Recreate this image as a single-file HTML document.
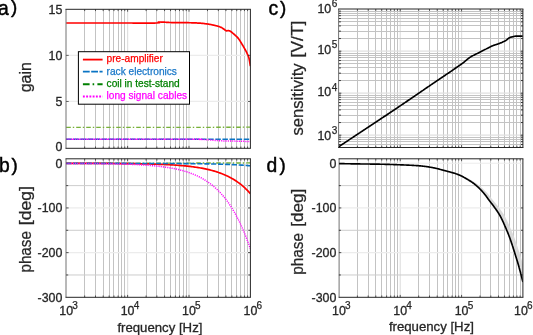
<!DOCTYPE html>
<html><head><meta charset="utf-8"><style>
html,body{margin:0;padding:0;background:#fff;width:533px;height:335px;overflow:hidden;}
svg{display:block;font-family:"Liberation Sans", sans-serif;will-change:transform;}
</style></head><body>
<svg width="533" height="335" viewBox="0 0 533 335" font-family='"Liberation Sans", sans-serif'>
<rect width="533" height="335" fill="#fff"/>
<line x1="84.50" y1="9.30" x2="84.50" y2="148.30" stroke="#c3c3c3" stroke-width="1.0" />
<line x1="95.50" y1="9.30" x2="95.50" y2="148.30" stroke="#c3c3c3" stroke-width="1.0" />
<line x1="103.50" y1="9.30" x2="103.50" y2="148.30" stroke="#c3c3c3" stroke-width="1.0" />
<line x1="109.50" y1="9.30" x2="109.50" y2="148.30" stroke="#c3c3c3" stroke-width="1.0" />
<line x1="113.50" y1="9.30" x2="113.50" y2="148.30" stroke="#c3c3c3" stroke-width="1.0" />
<line x1="118.50" y1="9.30" x2="118.50" y2="148.30" stroke="#c3c3c3" stroke-width="1.0" />
<line x1="121.50" y1="9.30" x2="121.50" y2="148.30" stroke="#c3c3c3" stroke-width="1.0" />
<line x1="124.50" y1="9.30" x2="124.50" y2="148.30" stroke="#c3c3c3" stroke-width="1.0" />
<line x1="127.60" y1="9.30" x2="127.60" y2="148.30" stroke="#e0e0e0" stroke-width="1.2" />
<line x1="146.50" y1="9.30" x2="146.50" y2="148.30" stroke="#c3c3c3" stroke-width="1.0" />
<line x1="156.50" y1="9.30" x2="156.50" y2="148.30" stroke="#c3c3c3" stroke-width="1.0" />
<line x1="164.50" y1="9.30" x2="164.50" y2="148.30" stroke="#c3c3c3" stroke-width="1.0" />
<line x1="170.50" y1="9.30" x2="170.50" y2="148.30" stroke="#c3c3c3" stroke-width="1.0" />
<line x1="175.50" y1="9.30" x2="175.50" y2="148.30" stroke="#c3c3c3" stroke-width="1.0" />
<line x1="179.50" y1="9.30" x2="179.50" y2="148.30" stroke="#c3c3c3" stroke-width="1.0" />
<line x1="183.50" y1="9.30" x2="183.50" y2="148.30" stroke="#c3c3c3" stroke-width="1.0" />
<line x1="186.50" y1="9.30" x2="186.50" y2="148.30" stroke="#c3c3c3" stroke-width="1.0" />
<line x1="189.00" y1="9.30" x2="189.00" y2="148.30" stroke="#e0e0e0" stroke-width="1.2" />
<line x1="207.50" y1="9.30" x2="207.50" y2="148.30" stroke="#c3c3c3" stroke-width="1.0" />
<line x1="218.50" y1="9.30" x2="218.50" y2="148.30" stroke="#c3c3c3" stroke-width="1.0" />
<line x1="225.50" y1="9.30" x2="225.50" y2="148.30" stroke="#c3c3c3" stroke-width="1.0" />
<line x1="231.50" y1="9.30" x2="231.50" y2="148.30" stroke="#c3c3c3" stroke-width="1.0" />
<line x1="236.50" y1="9.30" x2="236.50" y2="148.30" stroke="#c3c3c3" stroke-width="1.0" />
<line x1="240.50" y1="9.30" x2="240.50" y2="148.30" stroke="#c3c3c3" stroke-width="1.0" />
<line x1="244.50" y1="9.30" x2="244.50" y2="148.30" stroke="#c3c3c3" stroke-width="1.0" />
<line x1="247.50" y1="9.30" x2="247.50" y2="148.30" stroke="#c3c3c3" stroke-width="1.0" />
<line x1="66.20" y1="101.47" x2="250.40" y2="101.47" stroke="#ececec" stroke-width="1.2" />
<line x1="66.20" y1="55.38" x2="250.40" y2="55.38" stroke="#ececec" stroke-width="1.2" />
<line x1="84.50" y1="158.80" x2="84.50" y2="297.30" stroke="#c3c3c3" stroke-width="1.0" />
<line x1="95.50" y1="158.80" x2="95.50" y2="297.30" stroke="#c3c3c3" stroke-width="1.0" />
<line x1="103.50" y1="158.80" x2="103.50" y2="297.30" stroke="#c3c3c3" stroke-width="1.0" />
<line x1="109.50" y1="158.80" x2="109.50" y2="297.30" stroke="#c3c3c3" stroke-width="1.0" />
<line x1="113.50" y1="158.80" x2="113.50" y2="297.30" stroke="#c3c3c3" stroke-width="1.0" />
<line x1="118.50" y1="158.80" x2="118.50" y2="297.30" stroke="#c3c3c3" stroke-width="1.0" />
<line x1="121.50" y1="158.80" x2="121.50" y2="297.30" stroke="#c3c3c3" stroke-width="1.0" />
<line x1="124.50" y1="158.80" x2="124.50" y2="297.30" stroke="#c3c3c3" stroke-width="1.0" />
<line x1="127.60" y1="158.80" x2="127.60" y2="297.30" stroke="#e0e0e0" stroke-width="1.2" />
<line x1="146.50" y1="158.80" x2="146.50" y2="297.30" stroke="#c3c3c3" stroke-width="1.0" />
<line x1="156.50" y1="158.80" x2="156.50" y2="297.30" stroke="#c3c3c3" stroke-width="1.0" />
<line x1="164.50" y1="158.80" x2="164.50" y2="297.30" stroke="#c3c3c3" stroke-width="1.0" />
<line x1="170.50" y1="158.80" x2="170.50" y2="297.30" stroke="#c3c3c3" stroke-width="1.0" />
<line x1="175.50" y1="158.80" x2="175.50" y2="297.30" stroke="#c3c3c3" stroke-width="1.0" />
<line x1="179.50" y1="158.80" x2="179.50" y2="297.30" stroke="#c3c3c3" stroke-width="1.0" />
<line x1="183.50" y1="158.80" x2="183.50" y2="297.30" stroke="#c3c3c3" stroke-width="1.0" />
<line x1="186.50" y1="158.80" x2="186.50" y2="297.30" stroke="#c3c3c3" stroke-width="1.0" />
<line x1="189.00" y1="158.80" x2="189.00" y2="297.30" stroke="#e0e0e0" stroke-width="1.2" />
<line x1="207.50" y1="158.80" x2="207.50" y2="297.30" stroke="#c3c3c3" stroke-width="1.0" />
<line x1="218.50" y1="158.80" x2="218.50" y2="297.30" stroke="#c3c3c3" stroke-width="1.0" />
<line x1="225.50" y1="158.80" x2="225.50" y2="297.30" stroke="#c3c3c3" stroke-width="1.0" />
<line x1="231.50" y1="158.80" x2="231.50" y2="297.30" stroke="#c3c3c3" stroke-width="1.0" />
<line x1="236.50" y1="158.80" x2="236.50" y2="297.30" stroke="#c3c3c3" stroke-width="1.0" />
<line x1="240.50" y1="158.80" x2="240.50" y2="297.30" stroke="#c3c3c3" stroke-width="1.0" />
<line x1="244.50" y1="158.80" x2="244.50" y2="297.30" stroke="#c3c3c3" stroke-width="1.0" />
<line x1="247.50" y1="158.80" x2="247.50" y2="297.30" stroke="#c3c3c3" stroke-width="1.0" />
<line x1="66.20" y1="163.27" x2="250.40" y2="163.27" stroke="#ececec" stroke-width="1.2" />
<line x1="66.20" y1="185.61" x2="250.40" y2="185.61" stroke="#cdcdcd" stroke-width="1.0" />
<line x1="66.20" y1="207.95" x2="250.40" y2="207.95" stroke="#ececec" stroke-width="1.2" />
<line x1="66.20" y1="230.29" x2="250.40" y2="230.29" stroke="#cdcdcd" stroke-width="1.0" />
<line x1="66.20" y1="252.63" x2="250.40" y2="252.63" stroke="#ececec" stroke-width="1.2" />
<line x1="66.20" y1="274.97" x2="250.40" y2="274.97" stroke="#cdcdcd" stroke-width="1.0" />
<line x1="357.50" y1="9.00" x2="357.50" y2="147.50" stroke="#c3c3c3" stroke-width="1.0" />
<line x1="368.50" y1="9.00" x2="368.50" y2="147.50" stroke="#c3c3c3" stroke-width="1.0" />
<line x1="375.50" y1="9.00" x2="375.50" y2="147.50" stroke="#c3c3c3" stroke-width="1.0" />
<line x1="381.50" y1="9.00" x2="381.50" y2="147.50" stroke="#c3c3c3" stroke-width="1.0" />
<line x1="386.50" y1="9.00" x2="386.50" y2="147.50" stroke="#c3c3c3" stroke-width="1.0" />
<line x1="390.50" y1="9.00" x2="390.50" y2="147.50" stroke="#c3c3c3" stroke-width="1.0" />
<line x1="394.50" y1="9.00" x2="394.50" y2="147.50" stroke="#c3c3c3" stroke-width="1.0" />
<line x1="397.50" y1="9.00" x2="397.50" y2="147.50" stroke="#c3c3c3" stroke-width="1.0" />
<line x1="400.23" y1="9.00" x2="400.23" y2="147.50" stroke="#e0e0e0" stroke-width="1.2" />
<line x1="418.50" y1="9.00" x2="418.50" y2="147.50" stroke="#c3c3c3" stroke-width="1.0" />
<line x1="429.50" y1="9.00" x2="429.50" y2="147.50" stroke="#c3c3c3" stroke-width="1.0" />
<line x1="437.50" y1="9.00" x2="437.50" y2="147.50" stroke="#c3c3c3" stroke-width="1.0" />
<line x1="443.50" y1="9.00" x2="443.50" y2="147.50" stroke="#c3c3c3" stroke-width="1.0" />
<line x1="447.50" y1="9.00" x2="447.50" y2="147.50" stroke="#c3c3c3" stroke-width="1.0" />
<line x1="452.50" y1="9.00" x2="452.50" y2="147.50" stroke="#c3c3c3" stroke-width="1.0" />
<line x1="455.50" y1="9.00" x2="455.50" y2="147.50" stroke="#c3c3c3" stroke-width="1.0" />
<line x1="458.50" y1="9.00" x2="458.50" y2="147.50" stroke="#c3c3c3" stroke-width="1.0" />
<line x1="461.57" y1="9.00" x2="461.57" y2="147.50" stroke="#e0e0e0" stroke-width="1.2" />
<line x1="480.50" y1="9.00" x2="480.50" y2="147.50" stroke="#c3c3c3" stroke-width="1.0" />
<line x1="490.50" y1="9.00" x2="490.50" y2="147.50" stroke="#c3c3c3" stroke-width="1.0" />
<line x1="498.50" y1="9.00" x2="498.50" y2="147.50" stroke="#c3c3c3" stroke-width="1.0" />
<line x1="504.50" y1="9.00" x2="504.50" y2="147.50" stroke="#c3c3c3" stroke-width="1.0" />
<line x1="509.50" y1="9.00" x2="509.50" y2="147.50" stroke="#c3c3c3" stroke-width="1.0" />
<line x1="513.50" y1="9.00" x2="513.50" y2="147.50" stroke="#c3c3c3" stroke-width="1.0" />
<line x1="516.50" y1="9.00" x2="516.50" y2="147.50" stroke="#c3c3c3" stroke-width="1.0" />
<line x1="520.50" y1="9.00" x2="520.50" y2="147.50" stroke="#c3c3c3" stroke-width="1.0" />
<line x1="338.90" y1="144.50" x2="522.90" y2="144.50" stroke="#c3c3c3" stroke-width="1.0" />
<line x1="338.90" y1="141.50" x2="522.90" y2="141.50" stroke="#c3c3c3" stroke-width="1.0" />
<line x1="338.90" y1="139.50" x2="522.90" y2="139.50" stroke="#c3c3c3" stroke-width="1.0" />
<line x1="338.90" y1="137.50" x2="522.90" y2="137.50" stroke="#c3c3c3" stroke-width="1.0" />
<line x1="338.90" y1="135.20" x2="522.90" y2="135.20" stroke="#e0e0e0" stroke-width="1.2" />
<line x1="338.90" y1="122.50" x2="522.90" y2="122.50" stroke="#c3c3c3" stroke-width="1.0" />
<line x1="338.90" y1="115.50" x2="522.90" y2="115.50" stroke="#c3c3c3" stroke-width="1.0" />
<line x1="338.90" y1="109.50" x2="522.90" y2="109.50" stroke="#c3c3c3" stroke-width="1.0" />
<line x1="338.90" y1="105.50" x2="522.90" y2="105.50" stroke="#c3c3c3" stroke-width="1.0" />
<line x1="338.90" y1="102.50" x2="522.90" y2="102.50" stroke="#c3c3c3" stroke-width="1.0" />
<line x1="338.90" y1="99.50" x2="522.90" y2="99.50" stroke="#c3c3c3" stroke-width="1.0" />
<line x1="338.90" y1="97.50" x2="522.90" y2="97.50" stroke="#c3c3c3" stroke-width="1.0" />
<line x1="338.90" y1="95.50" x2="522.90" y2="95.50" stroke="#c3c3c3" stroke-width="1.0" />
<line x1="338.90" y1="93.20" x2="522.90" y2="93.20" stroke="#e0e0e0" stroke-width="1.2" />
<line x1="338.90" y1="80.50" x2="522.90" y2="80.50" stroke="#c3c3c3" stroke-width="1.0" />
<line x1="338.90" y1="73.50" x2="522.90" y2="73.50" stroke="#c3c3c3" stroke-width="1.0" />
<line x1="338.90" y1="67.50" x2="522.90" y2="67.50" stroke="#c3c3c3" stroke-width="1.0" />
<line x1="338.90" y1="63.50" x2="522.90" y2="63.50" stroke="#c3c3c3" stroke-width="1.0" />
<line x1="338.90" y1="60.50" x2="522.90" y2="60.50" stroke="#c3c3c3" stroke-width="1.0" />
<line x1="338.90" y1="57.50" x2="522.90" y2="57.50" stroke="#c3c3c3" stroke-width="1.0" />
<line x1="338.90" y1="55.50" x2="522.90" y2="55.50" stroke="#c3c3c3" stroke-width="1.0" />
<line x1="338.90" y1="53.50" x2="522.90" y2="53.50" stroke="#c3c3c3" stroke-width="1.0" />
<line x1="338.90" y1="51.20" x2="522.90" y2="51.20" stroke="#e0e0e0" stroke-width="1.2" />
<line x1="338.90" y1="38.50" x2="522.90" y2="38.50" stroke="#c3c3c3" stroke-width="1.0" />
<line x1="338.90" y1="31.50" x2="522.90" y2="31.50" stroke="#c3c3c3" stroke-width="1.0" />
<line x1="338.90" y1="25.50" x2="522.90" y2="25.50" stroke="#c3c3c3" stroke-width="1.0" />
<line x1="338.90" y1="21.50" x2="522.90" y2="21.50" stroke="#c3c3c3" stroke-width="1.0" />
<line x1="338.90" y1="18.50" x2="522.90" y2="18.50" stroke="#c3c3c3" stroke-width="1.0" />
<line x1="338.90" y1="15.50" x2="522.90" y2="15.50" stroke="#c3c3c3" stroke-width="1.0" />
<line x1="338.90" y1="13.50" x2="522.90" y2="13.50" stroke="#c3c3c3" stroke-width="1.0" />
<line x1="338.90" y1="11.50" x2="522.90" y2="11.50" stroke="#c3c3c3" stroke-width="1.0" />
<line x1="357.50" y1="158.80" x2="357.50" y2="297.30" stroke="#c3c3c3" stroke-width="1.0" />
<line x1="368.50" y1="158.80" x2="368.50" y2="297.30" stroke="#c3c3c3" stroke-width="1.0" />
<line x1="375.50" y1="158.80" x2="375.50" y2="297.30" stroke="#c3c3c3" stroke-width="1.0" />
<line x1="381.50" y1="158.80" x2="381.50" y2="297.30" stroke="#c3c3c3" stroke-width="1.0" />
<line x1="386.50" y1="158.80" x2="386.50" y2="297.30" stroke="#c3c3c3" stroke-width="1.0" />
<line x1="390.50" y1="158.80" x2="390.50" y2="297.30" stroke="#c3c3c3" stroke-width="1.0" />
<line x1="394.50" y1="158.80" x2="394.50" y2="297.30" stroke="#c3c3c3" stroke-width="1.0" />
<line x1="397.50" y1="158.80" x2="397.50" y2="297.30" stroke="#c3c3c3" stroke-width="1.0" />
<line x1="400.23" y1="158.80" x2="400.23" y2="297.30" stroke="#e0e0e0" stroke-width="1.2" />
<line x1="418.50" y1="158.80" x2="418.50" y2="297.30" stroke="#c3c3c3" stroke-width="1.0" />
<line x1="429.50" y1="158.80" x2="429.50" y2="297.30" stroke="#c3c3c3" stroke-width="1.0" />
<line x1="437.50" y1="158.80" x2="437.50" y2="297.30" stroke="#c3c3c3" stroke-width="1.0" />
<line x1="443.50" y1="158.80" x2="443.50" y2="297.30" stroke="#c3c3c3" stroke-width="1.0" />
<line x1="447.50" y1="158.80" x2="447.50" y2="297.30" stroke="#c3c3c3" stroke-width="1.0" />
<line x1="452.50" y1="158.80" x2="452.50" y2="297.30" stroke="#c3c3c3" stroke-width="1.0" />
<line x1="455.50" y1="158.80" x2="455.50" y2="297.30" stroke="#c3c3c3" stroke-width="1.0" />
<line x1="458.50" y1="158.80" x2="458.50" y2="297.30" stroke="#c3c3c3" stroke-width="1.0" />
<line x1="461.57" y1="158.80" x2="461.57" y2="297.30" stroke="#e0e0e0" stroke-width="1.2" />
<line x1="480.50" y1="158.80" x2="480.50" y2="297.30" stroke="#c3c3c3" stroke-width="1.0" />
<line x1="490.50" y1="158.80" x2="490.50" y2="297.30" stroke="#c3c3c3" stroke-width="1.0" />
<line x1="498.50" y1="158.80" x2="498.50" y2="297.30" stroke="#c3c3c3" stroke-width="1.0" />
<line x1="504.50" y1="158.80" x2="504.50" y2="297.30" stroke="#c3c3c3" stroke-width="1.0" />
<line x1="509.50" y1="158.80" x2="509.50" y2="297.30" stroke="#c3c3c3" stroke-width="1.0" />
<line x1="513.50" y1="158.80" x2="513.50" y2="297.30" stroke="#c3c3c3" stroke-width="1.0" />
<line x1="516.50" y1="158.80" x2="516.50" y2="297.30" stroke="#c3c3c3" stroke-width="1.0" />
<line x1="520.50" y1="158.80" x2="520.50" y2="297.30" stroke="#c3c3c3" stroke-width="1.0" />
<line x1="338.90" y1="163.27" x2="522.90" y2="163.27" stroke="#ececec" stroke-width="1.2" />
<line x1="338.90" y1="185.61" x2="522.90" y2="185.61" stroke="#cdcdcd" stroke-width="1.0" />
<line x1="338.90" y1="207.95" x2="522.90" y2="207.95" stroke="#ececec" stroke-width="1.2" />
<line x1="338.90" y1="230.29" x2="522.90" y2="230.29" stroke="#cdcdcd" stroke-width="1.0" />
<line x1="338.90" y1="252.63" x2="522.90" y2="252.63" stroke="#ececec" stroke-width="1.2" />
<line x1="338.90" y1="274.97" x2="522.90" y2="274.97" stroke="#cdcdcd" stroke-width="1.0" />
<clipPath id="ca"><rect x="66.2" y="9.3" width="184.2" height="139.0"/></clipPath>
<g clip-path="url(#ca)">
<path d="M66.20,127.40 L67.36,127.40 L68.52,127.40 L69.68,127.40 L70.83,127.40 L71.99,127.40 L73.15,127.40 L74.31,127.40 L75.47,127.40 L76.63,127.40 L77.78,127.40 L78.94,127.40 L80.10,127.40 L81.26,127.40 L82.42,127.40 L83.58,127.40 L84.74,127.40 L85.89,127.40 L87.05,127.40 L88.21,127.40 L89.37,127.40 L90.53,127.40 L91.69,127.40 L92.85,127.40 L94.00,127.40 L95.16,127.40 L96.32,127.40 L97.48,127.40 L98.64,127.40 L99.80,127.40 L100.95,127.40 L102.11,127.40 L103.27,127.40 L104.43,127.40 L105.59,127.40 L106.75,127.40 L107.91,127.40 L109.06,127.40 L110.22,127.40 L111.38,127.40 L112.54,127.40 L113.70,127.40 L114.86,127.40 L116.02,127.40 L117.17,127.40 L118.33,127.40 L119.49,127.40 L120.65,127.40 L121.81,127.40 L122.97,127.40 L124.12,127.40 L125.28,127.40 L126.44,127.40 L127.60,127.40 L128.76,127.40 L129.92,127.40 L131.08,127.40 L132.23,127.40 L133.39,127.40 L134.55,127.40 L135.71,127.40 L136.87,127.40 L138.03,127.40 L139.18,127.40 L140.34,127.40 L141.50,127.39 L142.66,127.39 L143.82,127.39 L144.98,127.39 L146.14,127.39 L147.29,127.39 L148.45,127.39 L149.61,127.39 L150.77,127.39 L151.93,127.39 L153.09,127.39 L154.25,127.39 L155.40,127.39 L156.56,127.39 L157.72,127.39 L158.88,127.39 L160.04,127.39 L161.20,127.39 L162.35,127.39 L163.51,127.39 L164.67,127.39 L165.83,127.39 L166.99,127.39 L168.15,127.39 L169.31,127.39 L170.46,127.39 L171.62,127.38 L172.78,127.38 L173.94,127.38 L175.10,127.38 L176.26,127.38 L177.42,127.38 L178.57,127.38 L179.73,127.38 L180.89,127.38 L182.05,127.38 L183.21,127.38 L184.37,127.37 L185.52,127.37 L186.68,127.37 L187.84,127.37 L189.00,127.37 L190.16,127.37 L191.32,127.37 L192.48,127.37 L193.63,127.36 L194.79,127.36 L195.95,127.36 L197.11,127.36 L198.27,127.36 L199.43,127.36 L200.58,127.35 L201.74,127.35 L202.90,127.35 L204.06,127.35 L205.22,127.34 L206.38,127.34 L207.54,127.34 L208.69,127.34 L209.85,127.33 L211.01,127.33 L212.17,127.33 L213.33,127.33 L214.49,127.32 L215.65,127.32 L216.80,127.31 L217.96,127.31 L219.12,127.31 L220.28,127.30 L221.44,127.30 L222.60,127.29 L223.75,127.29 L224.91,127.28 L226.07,127.28 L227.23,127.27 L228.39,127.27 L229.55,127.26 L230.71,127.26 L231.86,127.25 L233.02,127.24 L234.18,127.24 L235.34,127.23 L236.50,127.22 L237.66,127.21 L238.82,127.21 L239.97,127.20 L241.13,127.19 L242.29,127.18 L243.45,127.17 L244.61,127.16 L245.77,127.15 L246.92,127.14 L248.08,127.12 L249.24,127.11 L250.40,127.10" fill="none" stroke="#78b13a" stroke-width="1.4" stroke-dasharray="4.6,2,1.4,2" stroke-linecap="butt" stroke-linejoin="round"/>
<path d="M66.20,23.00 L66.70,23.00 L67.21,23.00 L67.71,23.00 L68.22,23.00 L68.73,23.00 L69.24,23.00 L69.75,23.00 L70.27,23.00 L70.78,23.00 L71.30,23.00 L71.81,23.00 L72.33,23.00 L72.85,23.00 L73.37,23.00 L73.89,23.00 L74.41,23.00 L74.93,23.00 L75.45,23.00 L75.98,23.00 L76.50,23.00 L77.03,23.00 L77.55,23.00 L78.08,23.00 L78.60,23.00 L79.13,23.00 L79.66,23.00 L80.19,23.00 L80.71,23.00 L81.24,23.00 L81.77,23.00 L82.30,23.00 L82.83,23.00 L83.36,23.00 L83.89,23.00 L84.42,23.00 L84.95,23.00 L85.48,23.00 L86.01,23.00 L86.54,23.00 L87.06,23.00 L87.59,23.00 L88.12,23.00 L88.65,23.00 L89.18,23.00 L89.71,23.00 L90.24,23.00 L90.76,23.00 L91.29,23.00 L91.81,23.00 L92.34,23.00 L92.87,23.00 L93.39,23.00 L93.91,23.00 L94.44,23.00 L94.96,23.00 L95.48,23.00 L96.00,23.00 L96.52,23.00 L97.04,23.00 L97.56,23.00 L98.07,23.00 L98.59,23.00 L99.10,23.00 L99.62,23.00 L100.13,23.00 L100.64,23.00 L101.15,23.00 L101.66,23.00 L102.16,23.00 L102.67,23.00 L103.17,23.00 L103.68,23.00 L104.18,23.00 L104.68,23.00 L105.17,23.00 L105.67,23.00 L106.16,23.00 L106.66,23.00 L107.15,23.00 L107.64,23.00 L108.12,23.00 L108.61,23.00 L109.09,23.00 L109.57,23.00 L110.05,23.00 L110.53,23.00 L111.01,23.00 L111.48,23.00 L111.95,23.00 L112.42,23.00 L112.89,23.00 L113.35,23.00 L113.81,23.00 L114.27,23.00 L114.73,23.00 L115.18,23.00 L115.63,23.00 L116.08,23.00 L116.53,23.00 L116.97,23.00 L117.41,23.00 L117.85,23.00 L118.29,23.00 L118.72,23.00 L119.15,23.00 L119.58,23.00 L120.00,23.00 L120.62,23.00 L121.24,23.00 L121.86,23.00 L122.48,23.00 L123.09,23.00 L123.71,23.00 L124.33,23.00 L124.95,23.00 L125.56,23.01 L126.17,23.01 L126.79,23.01 L127.40,23.01 L128.01,23.01 L128.62,23.01 L129.22,23.02 L129.83,23.02 L130.43,23.02 L131.03,23.02 L131.63,23.02 L132.22,23.02 L132.82,23.03 L133.41,23.03 L133.99,23.03 L134.58,23.03 L135.16,23.03 L135.73,23.04 L136.31,23.04 L136.88,23.04 L137.45,23.04 L138.01,23.04 L138.57,23.05 L139.12,23.05 L139.67,23.05 L140.22,23.05 L140.76,23.05 L141.30,23.06 L141.83,23.06 L142.35,23.06 L142.88,23.06 L143.39,23.06 L143.90,23.06 L144.41,23.06 L144.91,23.06 L145.40,23.06 L145.89,23.07 L146.37,23.07 L146.85,23.07 L147.32,23.07 L147.78,23.07 L148.24,23.07 L148.69,23.07 L149.13,23.07 L149.57,23.06 L150.00,23.06 L150.42,23.06 L150.83,23.06 L151.24,23.06 L151.64,23.06 L152.03,23.06 L152.41,23.05 L152.79,23.05 L153.15,23.05 L153.51,23.05 L153.86,23.04 L154.20,23.04 L154.53,23.04 L154.86,23.03 L155.17,23.03 L155.48,23.02 L155.77,23.02 L156.06,23.01 L156.33,23.01 L156.60,23.00 L159.61,22.73 L158.73,22.37 L158.20,22.10 L158.58,22.06 L159.01,22.03 L159.48,22.02 L159.99,22.02 L160.54,22.02 L161.12,22.04 L161.72,22.06 L162.35,22.08 L163.00,22.10 L163.43,22.12 L163.86,22.14 L164.30,22.16 L164.75,22.19 L165.21,22.23 L165.69,22.26 L166.18,22.29 L166.67,22.33 L167.19,22.36 L167.72,22.40 L168.26,22.43 L168.82,22.46 L169.40,22.48 L170.00,22.50 L170.44,22.51 L170.89,22.52 L171.36,22.53 L171.85,22.54 L172.35,22.55 L172.86,22.55 L173.38,22.56 L173.90,22.56 L174.44,22.57 L174.97,22.57 L175.50,22.57 L176.04,22.57 L176.57,22.58 L177.09,22.58 L177.61,22.58 L178.11,22.58 L178.61,22.59 L179.09,22.59 L179.55,22.60 L180.00,22.60 L180.57,22.61 L181.13,22.61 L181.66,22.62 L182.18,22.62 L182.69,22.63 L183.18,22.64 L183.67,22.64 L184.15,22.65 L184.62,22.65 L185.09,22.66 L185.57,22.67 L186.04,22.67 L186.52,22.68 L187.01,22.69 L187.50,22.70 L188.00,22.71 L188.50,22.72 L189.00,22.73 L189.50,22.74 L190.00,22.75 L190.50,22.76 L190.99,22.77 L191.49,22.78 L191.99,22.79 L192.49,22.81 L192.99,22.82 L193.49,22.84 L193.99,22.86 L194.50,22.88 L195.00,22.90 L195.50,22.92 L196.01,22.95 L196.52,22.97 L197.02,23.00 L197.53,23.03 L198.04,23.05 L198.55,23.08 L199.06,23.12 L199.57,23.15 L200.08,23.19 L200.59,23.22 L201.09,23.26 L201.60,23.31 L202.10,23.35 L202.60,23.40 L203.14,23.46 L203.69,23.52 L204.24,23.58 L204.80,23.65 L205.36,23.72 L205.91,23.79 L206.46,23.86 L207.01,23.94 L207.54,24.01 L208.07,24.09 L208.58,24.17 L209.07,24.25 L209.55,24.32 L210.00,24.40 L210.61,24.51 L211.18,24.62 L211.73,24.73 L212.26,24.85 L212.76,24.96 L213.24,25.08 L213.71,25.19 L214.15,25.30 L214.58,25.40 L215.00,25.50 L215.64,25.64 L216.20,25.77 L216.71,25.89 L217.19,26.01 L217.68,26.14 L218.20,26.30 L218.67,26.46 L219.16,26.62 L219.64,26.80 L220.13,26.99 L220.61,27.18 L221.06,27.39 L221.50,27.60 L221.98,27.86 L222.43,28.14 L222.87,28.44 L223.29,28.73 L223.70,29.02 L224.10,29.30 L224.57,29.64 L225.01,30.00 L225.45,30.33 L225.87,30.61 L226.30,30.80 L226.83,30.85 L227.35,30.74 L227.87,30.62 L228.40,30.60 L228.93,30.70 L229.46,30.85 L230.01,31.08 L230.60,31.40 L231.02,31.68 L231.46,32.02 L231.92,32.40 L232.38,32.80 L232.84,33.21 L233.30,33.60 L233.69,33.93 L234.07,34.26 L234.46,34.59 L234.84,34.93 L235.23,35.27 L235.61,35.63 L236.00,36.00 L236.38,36.36 L236.75,36.71 L237.12,37.07 L237.49,37.44 L237.87,37.86 L238.27,38.34 L238.70,38.90 L238.95,39.25 L239.20,39.62 L239.47,40.03 L239.75,40.46 L240.03,40.91 L240.31,41.37 L240.60,41.83 L240.88,42.30 L241.16,42.77 L241.44,43.23 L241.70,43.67 L241.96,44.10 L242.20,44.50 L242.50,45.00 L242.78,45.47 L243.06,45.93 L243.32,46.38 L243.57,46.83 L243.82,47.26 L244.07,47.69 L244.31,48.12 L244.56,48.56 L244.80,49.00 L245.07,49.49 L245.34,49.98 L245.61,50.47 L245.87,50.96 L246.13,51.44 L246.38,51.93 L246.63,52.42 L246.87,52.91 L247.10,53.40 L247.32,53.88 L247.54,54.32 L247.75,54.76 L247.95,55.20 L248.15,55.65 L248.34,56.13 L248.53,56.66 L248.72,57.24 L248.90,57.90 L249.00,58.31 L249.10,58.74 L249.20,59.20 L249.30,59.67 L249.39,60.17 L249.48,60.67 L249.58,61.19 L249.67,61.73 L249.76,62.26 L249.85,62.80 L249.94,63.35 L250.03,63.89 L250.12,64.43 L250.21,64.96 L250.31,65.49 L250.40,66.00" fill="none" stroke="#ff0000" stroke-width="1.7" stroke-linecap="butt" stroke-linejoin="round"/>
<path d="M66.20,139.35 L190.00,139.35 L200.00,139.40" fill="none" stroke="#f040f0" stroke-width="1.3" stroke-linecap="butt" stroke-linejoin="round"/>
<path d="M66.20,139.35 L67.36,139.35 L68.52,139.35 L69.68,139.35 L70.83,139.35 L71.99,139.35 L73.15,139.35 L74.31,139.35 L75.47,139.35 L76.63,139.35 L77.78,139.35 L78.94,139.35 L80.10,139.35 L81.26,139.35 L82.42,139.35 L83.58,139.35 L84.74,139.35 L85.89,139.35 L87.05,139.35 L88.21,139.35 L89.37,139.35 L90.53,139.35 L91.69,139.35 L92.85,139.35 L94.00,139.35 L95.16,139.35 L96.32,139.35 L97.48,139.35 L98.64,139.35 L99.80,139.35 L100.95,139.35 L102.11,139.35 L103.27,139.35 L104.43,139.35 L105.59,139.35 L106.75,139.35 L107.91,139.35 L109.06,139.35 L110.22,139.35 L111.38,139.35 L112.54,139.35 L113.70,139.35 L114.86,139.35 L116.02,139.35 L117.17,139.35 L118.33,139.35 L119.49,139.35 L120.65,139.35 L121.81,139.35 L122.97,139.35 L124.12,139.35 L125.28,139.35 L126.44,139.35 L127.60,139.35 L128.76,139.35 L129.92,139.35 L131.08,139.35 L132.23,139.35 L133.39,139.35 L134.55,139.35 L135.71,139.35 L136.87,139.35 L138.03,139.35 L139.18,139.35 L140.34,139.35 L141.50,139.35 L142.66,139.35 L143.82,139.35 L144.98,139.35 L146.14,139.35 L147.29,139.35 L148.45,139.35 L149.61,139.35 L150.77,139.35 L151.93,139.35 L153.09,139.35 L154.25,139.35 L155.40,139.35 L156.56,139.35 L157.72,139.35 L158.88,139.35 L160.04,139.35 L161.20,139.35 L162.35,139.35 L163.51,139.35 L164.67,139.35 L165.83,139.35 L166.99,139.35 L168.15,139.35 L169.31,139.35 L170.46,139.35 L171.62,139.34 L172.78,139.34 L173.94,139.34 L175.10,139.34 L176.26,139.34 L177.42,139.34 L178.57,139.34 L179.73,139.34 L180.89,139.34 L182.05,139.34 L183.21,139.34 L184.37,139.34 L185.52,139.34 L186.68,139.34 L187.84,139.34 L189.00,139.34 L190.16,139.34 L191.32,139.34 L192.48,139.34 L193.63,139.34 L194.79,139.34 L195.95,139.34 L197.11,139.34 L198.27,139.34 L199.43,139.34 L200.58,139.33 L201.74,139.33 L202.90,139.33 L204.06,139.33 L205.22,139.33 L206.38,139.33 L207.54,139.33 L208.69,139.33 L209.85,139.33 L211.01,139.33 L212.17,139.33 L213.33,139.33 L214.49,139.32 L215.65,139.32 L216.80,139.32 L217.96,139.32 L219.12,139.32 L220.28,139.32 L221.44,139.32 L222.60,139.31 L223.75,139.31 L224.91,139.31 L226.07,139.31 L227.23,139.31 L228.39,139.31 L229.55,139.30 L230.71,139.30 L231.86,139.30 L233.02,139.30 L234.18,139.30 L235.34,139.29 L236.50,139.29 L237.66,139.29 L238.82,139.29 L239.97,139.28 L241.13,139.28 L242.29,139.28 L243.45,139.27 L244.61,139.27 L245.77,139.27 L246.92,139.26 L248.08,139.26 L249.24,139.25 L250.40,139.25" fill="none" stroke="#0a74c4" stroke-width="1.5" stroke-dasharray="5.5,1.6" stroke-linecap="butt" stroke-linejoin="round"/>
<path d="M66.20,139.35 L66.70,139.35 L67.21,139.35 L67.71,139.35 L68.22,139.35 L68.73,139.35 L69.24,139.35 L69.75,139.35 L70.27,139.35 L70.78,139.35 L71.30,139.35 L71.82,139.35 L72.34,139.35 L72.87,139.35 L73.39,139.35 L73.92,139.35 L74.44,139.35 L74.97,139.35 L75.50,139.35 L76.03,139.35 L76.57,139.35 L77.10,139.35 L77.64,139.35 L78.18,139.35 L78.71,139.35 L79.25,139.35 L79.80,139.35 L80.34,139.35 L80.88,139.35 L81.43,139.35 L81.97,139.35 L82.52,139.35 L83.07,139.35 L83.62,139.35 L84.17,139.35 L84.72,139.35 L85.28,139.35 L85.83,139.35 L86.39,139.35 L86.94,139.35 L87.50,139.35 L88.06,139.35 L88.62,139.35 L89.18,139.35 L89.74,139.35 L90.30,139.35 L90.86,139.35 L91.43,139.35 L91.99,139.35 L92.55,139.35 L93.12,139.35 L93.69,139.35 L94.25,139.35 L94.82,139.35 L95.39,139.35 L95.96,139.35 L96.53,139.35 L97.10,139.35 L97.67,139.35 L98.24,139.35 L98.81,139.35 L99.39,139.35 L99.96,139.35 L100.53,139.35 L101.11,139.35 L101.68,139.35 L102.26,139.35 L102.83,139.35 L103.41,139.35 L103.98,139.35 L104.56,139.35 L105.14,139.35 L105.71,139.35 L106.29,139.35 L106.87,139.35 L107.44,139.35 L108.02,139.35 L108.60,139.35 L109.18,139.35 L109.75,139.35 L110.33,139.35 L110.91,139.35 L111.49,139.35 L112.07,139.35 L112.64,139.35 L113.22,139.35 L113.80,139.35 L114.38,139.35 L114.96,139.35 L115.53,139.35 L116.11,139.35 L116.69,139.35 L117.27,139.35 L117.84,139.35 L118.42,139.35 L119.00,139.35 L119.57,139.35 L120.15,139.35 L120.72,139.35 L121.30,139.35 L121.87,139.35 L122.45,139.35 L123.02,139.35 L123.59,139.35 L124.17,139.35 L124.74,139.35 L125.31,139.35 L125.88,139.35 L126.45,139.35 L127.02,139.35 L127.59,139.35 L128.16,139.35 L128.73,139.35 L129.30,139.35 L129.86,139.35 L130.43,139.35 L131.00,139.35 L131.56,139.35 L132.13,139.35 L132.69,139.35 L133.25,139.35 L133.81,139.35 L134.37,139.35 L134.93,139.35 L135.49,139.35 L136.05,139.35 L136.61,139.35 L137.16,139.35 L137.72,139.35 L138.27,139.35 L138.82,139.35 L139.38,139.35 L139.93,139.35 L140.48,139.35 L141.02,139.35 L141.57,139.35 L142.12,139.35 L142.66,139.35 L143.21,139.35 L143.75,139.35 L144.29,139.35 L144.83,139.35 L145.37,139.35 L145.90,139.35 L146.44,139.35 L146.97,139.35 L147.51,139.35 L148.04,139.35 L148.57,139.35 L149.10,139.35 L149.62,139.35 L150.15,139.35 L150.67,139.35 L151.19,139.35 L151.72,139.35 L152.23,139.35 L152.75,139.35 L153.27,139.35 L153.78,139.35 L154.29,139.35 L154.80,139.35 L155.31,139.35 L155.82,139.35 L156.33,139.35 L156.83,139.35 L157.33,139.35 L157.83,139.35 L158.33,139.35 L158.82,139.35 L159.32,139.35 L159.81,139.35 L160.30,139.35 L160.79,139.35 L161.27,139.35 L161.76,139.35 L162.24,139.35 L162.72,139.35 L163.20,139.35 L163.67,139.35 L164.14,139.35 L164.62,139.35 L165.08,139.35 L165.55,139.35 L166.02,139.35 L166.48,139.35 L166.94,139.35 L167.39,139.35 L167.85,139.35 L168.30,139.35 L168.75,139.35 L169.20,139.35 L169.65,139.35 L170.09,139.35 L170.53,139.35 L170.97,139.35 L171.40,139.35 L171.84,139.35 L172.27,139.35 L172.69,139.35 L173.12,139.35 L173.54,139.35 L173.96,139.35 L174.38,139.35 L174.79,139.35 L175.20,139.35 L175.61,139.35 L176.02,139.35 L176.42,139.35 L176.82,139.35 L177.22,139.35 L177.62,139.35 L178.01,139.35 L178.40,139.35 L178.78,139.35 L179.17,139.35 L179.55,139.35 L179.92,139.35 L180.30,139.35 L180.67,139.35 L181.04,139.35 L181.40,139.35 L181.76,139.35 L182.12,139.35 L182.48,139.35 L182.83,139.35 L183.18,139.35 L183.52,139.35 L183.87,139.35 L184.21,139.35 L184.54,139.35 L184.88,139.35 L185.20,139.35 L185.53,139.35 L185.85,139.35 L186.17,139.35 L186.49,139.35 L186.80,139.35 L187.11,139.35 L187.41,139.35 L187.72,139.35 L188.01,139.35 L188.31,139.35 L188.60,139.35 L188.89,139.35 L189.17,139.35 L189.45,139.35 L189.73,139.35 L190.00,139.35 L193.07,139.35 L195.62,139.35 L197.70,139.35 L199.33,139.35 L200.57,139.35 L201.46,139.35 L202.03,139.35 L202.34,139.35 L202.41,139.36 L202.30,139.36 L202.04,139.36 L201.68,139.36 L201.25,139.36 L200.81,139.37 L200.38,139.37 L200.01,139.37 L199.75,139.38 L199.63,139.38 L199.70,139.39 L200.00,139.40 L200.59,139.41 L201.16,139.43 L201.70,139.44 L202.22,139.46 L202.72,139.48 L203.21,139.50 L203.69,139.52 L204.16,139.54 L204.62,139.56 L205.09,139.59 L205.55,139.61 L206.03,139.64 L206.51,139.67 L207.00,139.70 L207.50,139.73 L208.00,139.77 L208.51,139.81 L209.01,139.85 L209.52,139.90 L210.03,139.94 L210.53,139.99 L211.03,140.03 L211.54,140.08 L212.04,140.13 L212.53,140.17 L213.03,140.22 L213.52,140.26 L214.00,140.30 L214.52,140.34 L215.03,140.39 L215.53,140.43 L216.04,140.47 L216.54,140.51 L217.03,140.55 L217.53,140.60 L218.02,140.63 L218.52,140.67 L219.01,140.71 L219.51,140.74 L220.00,140.77 L220.50,140.80 L221.00,140.83 L221.49,140.85 L221.99,140.87 L222.48,140.89 L222.98,140.90 L223.47,140.92 L223.97,140.93 L224.46,140.94 L224.96,140.96 L225.47,140.97 L225.97,140.98 L226.48,140.99 L227.00,141.00 L227.46,141.01 L227.89,141.02 L228.30,141.02 L228.69,141.03 L229.08,141.03 L229.47,141.03 L229.88,141.04 L230.32,141.04 L230.79,141.05 L231.30,141.05 L231.87,141.06 L232.50,141.07 L233.21,141.08 L234.00,141.10 L234.37,141.11 L234.77,141.12 L235.18,141.13 L235.60,141.14 L236.04,141.15 L236.49,141.16 L236.96,141.17 L237.44,141.18 L237.93,141.19 L238.43,141.20 L238.94,141.22 L239.46,141.23 L239.99,141.24 L240.52,141.25 L241.07,141.27 L241.61,141.28 L242.16,141.29 L242.72,141.31 L243.28,141.32 L243.84,141.34 L244.40,141.35 L244.96,141.36 L245.52,141.38 L246.08,141.39 L246.64,141.41 L247.19,141.42 L247.74,141.43 L248.29,141.45 L248.83,141.46 L249.36,141.47 L249.88,141.49 L250.40,141.50" fill="none" stroke="#ff00ff" stroke-width="1.5" stroke-dasharray="1.1,1.1" stroke-linecap="butt" stroke-linejoin="round"/>
</g>
<clipPath id="cb"><rect x="66.2" y="158.8" width="184.2" height="138.5"/></clipPath>
<g clip-path="url(#cb)">
<path d="M66.20,163.10 L67.36,163.10 L68.52,163.10 L69.68,163.10 L70.83,163.10 L71.99,163.10 L73.15,163.10 L74.31,163.10 L75.47,163.10 L76.63,163.10 L77.78,163.10 L78.94,163.10 L80.10,163.10 L81.26,163.10 L82.42,163.10 L83.58,163.10 L84.74,163.10 L85.89,163.10 L87.05,163.10 L88.21,163.10 L89.37,163.10 L90.53,163.10 L91.69,163.10 L92.85,163.10 L94.00,163.10 L95.16,163.10 L96.32,163.10 L97.48,163.10 L98.64,163.10 L99.80,163.10 L100.95,163.10 L102.11,163.10 L103.27,163.10 L104.43,163.10 L105.59,163.10 L106.75,163.10 L107.91,163.10 L109.06,163.10 L110.22,163.10 L111.38,163.10 L112.54,163.10 L113.70,163.10 L114.86,163.10 L116.02,163.10 L117.17,163.10 L118.33,163.10 L119.49,163.10 L120.65,163.10 L121.81,163.10 L122.97,163.10 L124.12,163.10 L125.28,163.10 L126.44,163.10 L127.60,163.10 L128.76,163.10 L129.92,163.10 L131.08,163.10 L132.23,163.10 L133.39,163.10 L134.55,163.10 L135.71,163.10 L136.87,163.10 L138.03,163.10 L139.18,163.10 L140.34,163.10 L141.50,163.10 L142.66,163.10 L143.82,163.10 L144.98,163.10 L146.14,163.10 L147.29,163.10 L148.45,163.10 L149.61,163.10 L150.77,163.10 L151.93,163.10 L153.09,163.09 L154.25,163.09 L155.40,163.09 L156.56,163.09 L157.72,163.09 L158.88,163.09 L160.04,163.09 L161.20,163.09 L162.35,163.09 L163.51,163.09 L164.67,163.09 L165.83,163.09 L166.99,163.09 L168.15,163.09 L169.31,163.09 L170.46,163.09 L171.62,163.09 L172.78,163.09 L173.94,163.09 L175.10,163.09 L176.26,163.09 L177.42,163.09 L178.57,163.09 L179.73,163.09 L180.89,163.09 L182.05,163.08 L183.21,163.08 L184.37,163.08 L185.52,163.08 L186.68,163.08 L187.84,163.08 L189.00,163.08 L190.16,163.08 L191.32,163.08 L192.48,163.08 L193.63,163.08 L194.79,163.08 L195.95,163.07 L197.11,163.07 L198.27,163.07 L199.43,163.07 L200.58,163.07 L201.74,163.07 L202.90,163.07 L204.06,163.06 L205.22,163.06 L206.38,163.06 L207.54,163.06 L208.69,163.06 L209.85,163.06 L211.01,163.05 L212.17,163.05 L213.33,163.05 L214.49,163.05 L215.65,163.05 L216.80,163.04 L217.96,163.04 L219.12,163.04 L220.28,163.04 L221.44,163.03 L222.60,163.03 L223.75,163.03 L224.91,163.02 L226.07,163.02 L227.23,163.02 L228.39,163.01 L229.55,163.01 L230.71,163.00 L231.86,163.00 L233.02,163.00 L234.18,162.99 L235.34,162.99 L236.50,162.98 L237.66,162.98 L238.82,162.97 L239.97,162.96 L241.13,162.96 L242.29,162.95 L243.45,162.95 L244.61,162.94 L245.77,162.93 L246.92,162.92 L248.08,162.92 L249.24,162.91 L250.40,162.90" fill="none" stroke="#78b13a" stroke-width="1.4" stroke-dasharray="4.6,2,1.4,2" stroke-linecap="butt" stroke-linejoin="round"/>
<path d="M66.20,163.33 L67.36,163.33 L68.52,163.33 L69.68,163.33 L70.83,163.34 L71.99,163.34 L73.15,163.34 L74.31,163.34 L75.47,163.34 L76.63,163.34 L77.78,163.35 L78.94,163.35 L80.10,163.35 L81.26,163.35 L82.42,163.36 L83.58,163.36 L84.74,163.36 L85.89,163.36 L87.05,163.37 L88.21,163.37 L89.37,163.37 L90.53,163.38 L91.69,163.38 L92.85,163.38 L94.00,163.39 L95.16,163.39 L96.32,163.39 L97.48,163.40 L98.64,163.40 L99.80,163.41 L100.95,163.41 L102.11,163.42 L103.27,163.42 L104.43,163.43 L105.59,163.43 L106.75,163.44 L107.91,163.44 L109.06,163.45 L110.22,163.46 L111.38,163.46 L112.54,163.47 L113.70,163.48 L114.86,163.49 L116.02,163.50 L117.17,163.50 L118.33,163.51 L119.49,163.52 L120.65,163.53 L121.81,163.54 L122.97,163.55 L124.12,163.57 L125.28,163.58 L126.44,163.59 L127.60,163.60 L128.76,163.62 L129.92,163.63 L131.08,163.65 L132.23,163.66 L133.39,163.68 L134.55,163.69 L135.71,163.71 L136.87,163.73 L138.03,163.75 L139.18,163.77 L140.34,163.79 L141.50,163.81 L142.66,163.83 L143.82,163.86 L144.98,163.88 L146.14,163.91 L147.29,163.93 L148.45,163.96 L149.61,163.99 L150.77,164.02 L151.93,164.05 L153.09,164.09 L154.25,164.12 L155.40,164.16 L156.56,164.20 L157.72,164.24 L158.88,164.28 L160.04,164.32 L161.20,164.37 L162.35,164.42 L163.51,164.47 L164.67,164.52 L165.83,164.57 L166.99,164.63 L168.15,164.69 L169.31,164.75 L170.46,164.81 L171.62,164.88 L172.78,164.95 L173.94,165.02 L175.10,165.10 L176.26,165.18 L177.42,165.26 L178.57,165.35 L179.73,165.44 L180.89,165.54 L182.05,165.63 L183.21,165.74 L184.37,165.85 L185.52,165.96 L186.68,166.08 L187.84,166.20 L189.00,166.33 L190.16,166.46 L191.32,166.61 L192.48,166.75 L193.63,166.91 L194.79,167.07 L195.95,167.23 L197.11,167.41 L198.27,167.59 L199.43,167.78 L200.58,167.98 L201.74,168.19 L202.90,168.40 L204.06,168.63 L205.22,168.87 L206.38,169.11 L207.54,169.37 L208.69,169.64 L209.85,169.92 L211.01,170.22 L212.17,170.52 L213.33,170.85 L214.49,171.18 L215.65,171.53 L216.80,171.90 L217.96,172.28 L219.12,172.68 L220.28,173.09 L221.44,173.53 L222.60,173.98 L223.75,174.46 L224.91,174.95 L226.07,175.47 L227.23,176.01 L228.39,176.57 L229.55,177.16 L230.71,177.78 L231.86,178.42 L233.02,179.09 L234.18,179.79 L235.34,180.53 L236.50,181.29 L237.66,182.09 L238.82,182.92 L239.97,183.79 L241.13,184.70 L242.29,185.65 L243.45,186.65 L244.61,187.68 L245.77,188.77 L246.92,189.90 L248.08,191.08 L249.24,192.31 L250.40,193.60" fill="none" stroke="#ff0000" stroke-width="1.7" stroke-linecap="butt" stroke-linejoin="round"/>
<path d="M66.20,163.40 L67.36,163.40 L68.52,163.40 L69.68,163.40 L70.83,163.40 L71.99,163.40 L73.15,163.40 L74.31,163.40 L75.47,163.40 L76.63,163.40 L77.78,163.40 L78.94,163.40 L80.10,163.40 L81.26,163.40 L82.42,163.40 L83.58,163.40 L84.74,163.40 L85.89,163.41 L87.05,163.41 L88.21,163.41 L89.37,163.41 L90.53,163.41 L91.69,163.41 L92.85,163.41 L94.00,163.41 L95.16,163.41 L96.32,163.41 L97.48,163.41 L98.64,163.41 L99.80,163.41 L100.95,163.41 L102.11,163.41 L103.27,163.41 L104.43,163.41 L105.59,163.41 L106.75,163.41 L107.91,163.41 L109.06,163.41 L110.22,163.41 L111.38,163.41 L112.54,163.41 L113.70,163.41 L114.86,163.41 L116.02,163.42 L117.17,163.42 L118.33,163.42 L119.49,163.42 L120.65,163.42 L121.81,163.42 L122.97,163.42 L124.12,163.42 L125.28,163.42 L126.44,163.42 L127.60,163.42 L128.76,163.43 L129.92,163.43 L131.08,163.43 L132.23,163.43 L133.39,163.43 L134.55,163.43 L135.71,163.43 L136.87,163.43 L138.03,163.44 L139.18,163.44 L140.34,163.44 L141.50,163.44 L142.66,163.44 L143.82,163.44 L144.98,163.45 L146.14,163.45 L147.29,163.45 L148.45,163.45 L149.61,163.45 L150.77,163.46 L151.93,163.46 L153.09,163.46 L154.25,163.47 L155.40,163.47 L156.56,163.47 L157.72,163.47 L158.88,163.48 L160.04,163.48 L161.20,163.48 L162.35,163.49 L163.51,163.49 L164.67,163.50 L165.83,163.50 L166.99,163.51 L168.15,163.51 L169.31,163.51 L170.46,163.52 L171.62,163.53 L172.78,163.53 L173.94,163.54 L175.10,163.54 L176.26,163.55 L177.42,163.56 L178.57,163.56 L179.73,163.57 L180.89,163.58 L182.05,163.58 L183.21,163.59 L184.37,163.60 L185.52,163.61 L186.68,163.62 L187.84,163.63 L189.00,163.64 L190.16,163.65 L191.32,163.66 L192.48,163.67 L193.63,163.69 L194.79,163.70 L195.95,163.71 L197.11,163.73 L198.27,163.74 L199.43,163.75 L200.58,163.77 L201.74,163.79 L202.90,163.80 L204.06,163.82 L205.22,163.84 L206.38,163.86 L207.54,163.88 L208.69,163.90 L209.85,163.92 L211.01,163.95 L212.17,163.97 L213.33,164.00 L214.49,164.02 L215.65,164.05 L216.80,164.08 L217.96,164.11 L219.12,164.14 L220.28,164.18 L221.44,164.21 L222.60,164.25 L223.75,164.28 L224.91,164.32 L226.07,164.36 L227.23,164.41 L228.39,164.45 L229.55,164.50 L230.71,164.55 L231.86,164.60 L233.02,164.65 L234.18,164.71 L235.34,164.76 L236.50,164.82 L237.66,164.89 L238.82,164.95 L239.97,165.02 L241.13,165.10 L242.29,165.17 L243.45,165.25 L244.61,165.33 L245.77,165.42 L246.92,165.51 L248.08,165.60 L249.24,165.70 L250.40,165.80" fill="none" stroke="#0a74c4" stroke-width="1.6" stroke-dasharray="5.2,1.7" stroke-linecap="butt" stroke-linejoin="round"/>
<path d="M66.20,163.39 L67.36,163.40 L68.52,163.40 L69.68,163.41 L70.83,163.41 L71.99,163.42 L73.15,163.42 L74.31,163.43 L75.47,163.43 L76.63,163.44 L77.78,163.44 L78.94,163.45 L80.10,163.46 L81.26,163.46 L82.42,163.47 L83.58,163.48 L84.74,163.49 L85.89,163.50 L87.05,163.50 L88.21,163.51 L89.37,163.52 L90.53,163.53 L91.69,163.54 L92.85,163.55 L94.00,163.57 L95.16,163.58 L96.32,163.59 L97.48,163.60 L98.64,163.62 L99.80,163.63 L100.95,163.64 L102.11,163.66 L103.27,163.68 L104.43,163.69 L105.59,163.71 L106.75,163.73 L107.91,163.75 L109.06,163.77 L110.22,163.79 L111.38,163.81 L112.54,163.83 L113.70,163.86 L114.86,163.88 L116.02,163.91 L117.17,163.93 L118.33,163.96 L119.49,163.99 L120.65,164.02 L121.81,164.05 L122.97,164.09 L124.12,164.12 L125.28,164.16 L126.44,164.20 L127.60,164.24 L128.76,164.28 L129.92,164.32 L131.08,164.37 L132.23,164.41 L133.39,164.46 L134.55,164.51 L135.71,164.57 L136.87,164.62 L138.03,164.68 L139.18,164.74 L140.34,164.81 L141.50,164.88 L142.66,164.95 L143.82,165.02 L144.98,165.09 L146.14,165.17 L147.29,165.26 L148.45,165.34 L149.61,165.43 L150.77,165.53 L151.93,165.63 L153.09,165.73 L154.25,165.84 L155.40,165.95 L156.56,166.07 L157.72,166.19 L158.88,166.32 L160.04,166.45 L161.20,166.59 L162.35,166.74 L163.51,166.89 L164.67,167.05 L165.83,167.22 L166.99,167.39 L168.15,167.57 L169.31,167.76 L170.46,167.96 L171.62,168.16 L172.78,168.38 L173.94,168.60 L175.10,168.83 L176.26,169.08 L177.42,169.33 L178.57,169.60 L179.73,169.88 L180.89,170.17 L182.05,170.47 L183.21,170.79 L184.37,171.12 L185.52,171.46 L186.68,171.82 L187.84,172.20 L189.00,172.59 L190.16,173.00 L191.32,173.42 L192.48,173.87 L193.63,174.33 L194.79,174.82 L195.95,175.32 L197.11,175.85 L198.27,176.40 L199.43,176.97 L200.58,177.57 L201.74,178.20 L202.90,178.85 L204.06,179.53 L205.22,180.24 L206.38,180.98 L207.54,181.75 L208.69,182.55 L209.85,183.39 L211.01,184.26 L212.17,185.17 L213.33,186.12 L214.49,187.11 L215.65,188.15 L216.80,189.22 L217.96,190.34 L219.12,191.51 L220.28,192.72 L221.44,193.99 L222.60,195.31 L223.75,196.69 L224.91,198.12 L226.07,199.61 L227.23,201.16 L228.39,202.77 L229.55,204.45 L230.71,206.20 L231.86,208.02 L233.02,209.91 L234.18,211.87 L235.34,213.92 L236.50,216.04 L237.66,218.25 L238.82,220.54 L239.97,222.93 L241.13,225.40 L242.29,227.97 L243.45,230.63 L244.61,233.39 L245.77,236.26 L246.92,239.23 L248.08,242.31 L249.24,245.50 L250.40,248.80" fill="none" stroke="#ff00ff" stroke-width="1.5" stroke-dasharray="1.1,1.1" stroke-linecap="butt" stroke-linejoin="round"/>
</g>
<clipPath id="cc"><rect x="338.9" y="9.0" width="184.0" height="138.5"/></clipPath>
<g clip-path="url(#cc)">
<path d="M338.70,147.00 L339.01,146.77 L339.14,146.67 L339.14,146.64 L339.07,146.67 L338.98,146.71 L338.93,146.72 L338.97,146.67 L339.15,146.53 L339.54,146.25 L340.18,145.81 L341.13,145.16 L342.46,144.27 L344.20,143.10 L344.44,142.94 L344.69,142.77 L344.95,142.60 L345.21,142.42 L345.49,142.24 L345.77,142.05 L346.06,141.86 L346.36,141.66 L346.66,141.46 L346.98,141.25 L347.30,141.04 L347.62,140.82 L347.96,140.59 L348.30,140.37 L348.65,140.13 L349.01,139.90 L349.37,139.66 L349.74,139.41 L350.11,139.16 L350.49,138.91 L350.88,138.65 L351.27,138.39 L351.67,138.13 L352.07,137.86 L352.48,137.59 L352.90,137.32 L353.32,137.04 L353.74,136.76 L354.17,136.47 L354.60,136.18 L355.04,135.89 L355.48,135.60 L355.92,135.31 L356.37,135.01 L356.83,134.71 L357.28,134.41 L357.74,134.10 L358.21,133.79 L358.67,133.48 L359.14,133.17 L359.62,132.86 L360.09,132.54 L360.57,132.23 L361.05,131.91 L361.53,131.59 L362.02,131.27 L362.50,130.95 L362.99,130.62 L363.48,130.30 L363.97,129.97 L364.46,129.65 L364.96,129.32 L365.45,128.99 L365.95,128.66 L366.44,128.34 L366.94,128.01 L367.44,127.68 L367.93,127.35 L368.43,127.02 L368.93,126.69 L369.42,126.36 L369.92,126.03 L370.42,125.70 L370.91,125.37 L371.41,125.05 L371.90,124.72 L372.39,124.39 L372.88,124.07 L373.37,123.74 L373.86,123.42 L374.35,123.10 L374.83,122.78 L375.31,122.46 L375.79,122.14 L376.27,121.82 L376.74,121.51 L377.22,121.19 L377.69,120.88 L378.15,120.57 L378.62,120.27 L379.08,119.96 L379.53,119.66 L379.99,119.36 L380.44,119.06 L380.88,118.76 L381.32,118.47 L381.76,118.18 L382.19,117.89 L382.62,117.61 L383.04,117.33 L383.46,117.05 L383.88,116.77 L384.29,116.50 L384.69,116.24 L385.09,115.97 L385.48,115.71 L385.87,115.45 L386.25,115.20 L386.62,114.95 L386.99,114.71 L387.35,114.46 L387.71,114.23 L388.06,114.00 L388.40,113.77 L388.73,113.55 L389.06,113.33 L389.38,113.11 L389.69,112.90 L390.00,112.70 L390.67,112.25 L391.33,111.81 L391.96,111.39 L392.57,110.98 L393.16,110.59 L393.73,110.21 L394.29,109.83 L394.83,109.47 L395.35,109.13 L395.85,108.79 L396.34,108.46 L396.81,108.14 L397.27,107.83 L397.72,107.53 L398.16,107.24 L398.58,106.96 L398.99,106.68 L399.39,106.41 L399.78,106.14 L400.16,105.89 L400.54,105.63 L400.90,105.39 L401.26,105.14 L401.61,104.91 L401.96,104.67 L402.30,104.44 L402.64,104.21 L402.97,103.98 L403.30,103.76 L403.63,103.53 L403.96,103.31 L404.29,103.09 L404.62,102.87 L404.94,102.64 L405.27,102.42 L405.60,102.19 L405.94,101.97 L406.28,101.74 L406.62,101.50 L406.97,101.27 L407.32,101.03 L407.68,100.78 L408.04,100.53 L408.42,100.28 L408.80,100.02 L409.19,99.75 L409.59,99.48 L410.00,99.20 L410.42,98.92 L410.83,98.63 L411.25,98.35 L411.67,98.06 L412.08,97.78 L412.50,97.50 L412.92,97.21 L413.33,96.93 L413.75,96.64 L414.17,96.36 L414.58,96.07 L415.00,95.78 L415.42,95.50 L415.83,95.21 L416.25,94.93 L416.67,94.64 L417.08,94.35 L417.50,94.07 L417.92,93.78 L418.33,93.50 L418.75,93.21 L419.17,92.92 L419.58,92.64 L420.00,92.35 L420.42,92.06 L420.83,91.78 L421.25,91.49 L421.67,91.20 L422.08,90.92 L422.50,90.63 L422.92,90.35 L423.33,90.06 L423.75,89.77 L424.17,89.49 L424.58,89.20 L425.00,88.92 L425.42,88.63 L425.83,88.34 L426.25,88.06 L426.67,87.77 L427.08,87.49 L427.50,87.20 L427.92,86.92 L428.33,86.64 L428.75,86.35 L429.17,86.07 L429.58,85.78 L430.00,85.50 L430.42,85.21 L430.85,84.93 L431.28,84.63 L431.71,84.34 L432.16,84.04 L432.60,83.73 L433.05,83.43 L433.51,83.12 L433.96,82.81 L434.42,82.50 L434.89,82.19 L435.35,81.88 L435.82,81.56 L436.29,81.25 L436.75,80.93 L437.22,80.61 L437.69,80.30 L438.16,79.98 L438.63,79.67 L439.09,79.35 L439.56,79.04 L440.02,78.73 L440.48,78.42 L440.94,78.11 L441.39,77.81 L441.84,77.50 L442.29,77.20 L442.73,76.91 L443.17,76.61 L443.60,76.32 L444.02,76.03 L444.44,75.75 L444.86,75.47 L445.26,75.20 L445.66,74.93 L446.05,74.67 L446.44,74.41 L446.81,74.16 L447.18,73.91 L447.53,73.67 L447.88,73.43 L448.22,73.21 L448.54,72.99 L448.86,72.77 L449.16,72.57 L449.45,72.37 L449.73,72.18 L450.00,72.00 L450.93,71.36 L451.67,70.86 L452.25,70.46 L452.69,70.16 L453.02,69.92 L453.28,69.73 L453.50,69.57 L453.70,69.42 L453.93,69.26 L454.20,69.07 L454.54,68.82 L455.00,68.50 L455.35,68.25 L455.72,68.00 L456.11,67.74 L456.50,67.47 L456.91,67.20 L457.32,66.92 L457.74,66.63 L458.17,66.34 L458.60,66.05 L459.04,65.75 L459.48,65.45 L459.91,65.15 L460.35,64.84 L460.79,64.54 L461.23,64.23 L461.66,63.92 L462.08,63.61 L462.50,63.30 L462.91,62.99 L463.33,62.66 L463.74,62.34 L464.15,62.00 L464.56,61.66 L464.97,61.31 L465.38,60.97 L465.79,60.62 L466.20,60.27 L466.61,59.93 L467.02,59.59 L467.43,59.25 L467.84,58.92 L468.25,58.60 L468.66,58.28 L469.07,57.98 L469.49,57.68 L469.90,57.40 L470.34,57.11 L470.78,56.84 L471.22,56.58 L471.66,56.32 L472.10,56.08 L472.54,55.84 L472.98,55.61 L473.42,55.38 L473.86,55.16 L474.31,54.94 L474.75,54.72 L475.19,54.50 L475.63,54.29 L476.08,54.07 L476.52,53.85 L476.96,53.63 L477.40,53.40 L477.87,53.16 L478.34,52.91 L478.81,52.67 L479.28,52.43 L479.75,52.19 L480.22,51.96 L480.69,51.72 L481.16,51.48 L481.63,51.24 L482.09,51.01 L482.56,50.77 L483.03,50.54 L483.50,50.30 L483.97,50.07 L484.43,49.83 L484.90,49.60 L485.37,49.36 L485.83,49.13 L486.29,48.88 L486.75,48.64 L487.22,48.40 L487.68,48.16 L488.14,47.92 L488.60,47.68 L489.06,47.44 L489.52,47.20 L489.98,46.97 L490.45,46.75 L490.91,46.52 L491.37,46.31 L491.83,46.10 L492.30,45.90 L492.80,45.70 L493.31,45.50 L493.82,45.31 L494.33,45.13 L494.85,44.96 L495.37,44.79 L495.89,44.63 L496.40,44.46 L496.91,44.30 L497.41,44.14 L497.91,43.98 L498.40,43.82 L498.88,43.65 L499.35,43.48 L499.80,43.30 L500.31,43.09 L500.82,42.88 L501.31,42.67 L501.80,42.45 L502.28,42.24 L502.75,42.02 L503.21,41.80 L503.66,41.59 L504.09,41.37 L504.51,41.15 L504.92,40.93 L505.32,40.72 L505.70,40.50 L506.21,40.18 L506.66,39.85 L507.07,39.51 L507.46,39.18 L507.83,38.85 L508.21,38.53 L508.60,38.23 L509.03,37.95 L509.50,37.70 L509.97,37.50 L510.48,37.31 L511.02,37.14 L511.57,36.98 L512.13,36.84 L512.69,36.71 L513.24,36.59 L513.76,36.48 L514.25,36.39 L514.70,36.30 L515.34,36.19 L515.88,36.13 L516.37,36.11 L516.85,36.10 L517.38,36.10 L518.00,36.10 L518.47,36.10 L518.98,36.10 L519.51,36.11 L520.07,36.12 L520.63,36.14 L521.21,36.16 L521.78,36.17 L522.35,36.19 L522.90,36.20" fill="none" stroke="#000000" stroke-width="1.65" stroke-linecap="butt" stroke-linejoin="round"/>
</g>
<clipPath id="cd"><rect x="338.9" y="158.8" width="184.0" height="138.5"/></clipPath>
<g clip-path="url(#cd)">
<path d="M450.19,172.06 L450.71,172.20 L451.22,172.34 L451.72,172.47 L452.20,172.61 L452.66,172.74 L453.10,172.86 L453.51,172.98 L453.90,173.10 L454.61,173.32 L455.26,173.53 L455.86,173.72 L456.41,173.91 L456.91,174.09 L457.39,174.27 L457.83,174.44 L458.26,174.61 L458.67,174.78 L459.08,174.95 L459.49,175.12 L459.90,175.30 L460.42,175.52 L460.87,175.72 L461.27,175.91 L461.65,176.10 L462.03,176.29 L462.43,176.51 L462.88,176.76 L463.39,177.05 L464.00,177.40 L464.34,177.60 L464.71,177.81 L465.11,178.03 L465.52,178.27 L465.95,178.51 L466.39,178.77 L466.85,179.03 L467.31,179.31 L467.78,179.58 L468.25,179.86 L468.73,180.14 L469.20,180.43 L469.66,180.71 L470.12,181.00 L470.56,181.28 L470.99,181.56 L471.41,181.83 L471.80,182.10 L472.25,182.41 L472.69,182.72 L473.12,183.03 L473.53,183.33 L473.93,183.64 L474.33,183.94 L474.72,184.25 L475.10,184.55 L475.49,184.87 L475.87,185.19 L476.25,185.51 L476.63,185.84 L477.01,186.18 L477.40,186.54 L477.80,186.90 L478.16,187.23 L478.51,187.57 L478.88,187.92 L479.24,188.28 L479.60,188.65 L479.97,189.02 L480.34,189.39 L480.70,189.77 L481.06,190.15 L481.42,190.54 L481.78,190.92 L482.13,191.31 L482.48,191.69 L482.82,192.07 L483.15,192.45 L483.48,192.83 L483.80,193.20 L484.15,193.61 L484.48,194.01 L484.80,194.41 L485.10,194.80 L485.40,195.19 L485.69,195.58 L485.98,195.97 L486.27,196.36 L486.56,196.76 L486.86,197.17 L487.16,197.58 L487.47,198.01 L487.80,198.46 L488.14,198.92 L488.50,199.40 L488.77,199.76 L489.05,200.13 L489.34,200.51 L489.64,200.90 L489.95,201.30 L490.26,201.71 L490.58,202.13 L490.90,202.55 L491.22,202.98 L491.55,203.40 L491.88,203.83 L492.20,204.26 L492.52,204.69 L492.84,205.11 L493.16,205.54 L493.47,205.95 L493.77,206.36 L494.07,206.76 L494.36,207.15 L494.63,207.53 L494.90,207.90 L495.24,208.37 L495.56,208.83 L495.88,209.28 L496.19,209.72 L496.50,210.16 L496.79,210.58 L497.08,211.00 L497.36,211.42 L497.64,211.83 L497.91,212.23 L498.17,212.63 L498.42,213.03 L498.68,213.43 L498.92,213.82 L499.16,214.21 L499.40,214.60 L499.68,215.07 L499.94,215.53 L500.19,215.98 L500.43,216.42 L500.66,216.86 L500.88,217.29 L501.10,217.71 L501.31,218.14 L501.53,218.58 L501.74,219.02 L501.95,219.47 L502.17,219.93 L502.40,220.40 L502.61,220.85 L502.83,221.31 L503.04,221.77 L503.26,222.23 L503.47,222.71 L503.69,223.18 L503.90,223.66 L504.11,224.15 L504.33,224.63 L504.54,225.12 L504.76,225.61 L504.97,226.11 L505.19,226.60 L505.40,227.10 L505.60,227.57 L505.80,228.04 L506.01,228.52 L506.22,229.00 L506.42,229.49 L506.63,229.98 L506.83,230.47 L507.04,230.96 L507.24,231.45 L507.44,231.93 L507.64,232.42 L507.84,232.90 L508.03,233.37 L508.22,233.84 L508.40,234.30 L508.60,234.81 L508.79,235.30 L508.97,235.76 L509.15,236.21 L509.32,236.66 L509.48,237.11 L509.65,237.56 L509.82,238.03 L510.00,238.51 L510.18,239.03 L510.38,239.58 L510.58,240.16 L510.80,240.80 L510.94,241.20 L511.08,241.61 L511.22,242.04 L511.37,242.48 L511.52,242.93 L511.67,243.39 L511.83,243.86 L511.99,244.34 L512.15,244.83 L512.31,245.32 L512.47,245.83 L512.64,246.33 L512.81,246.84 L512.97,247.36 L513.14,247.88 L513.31,248.40 L513.48,248.92 L513.64,249.44 L513.81,249.96 L513.97,250.47 L514.14,250.99 L514.30,251.50 L514.45,251.97 L514.60,252.45 L514.75,252.93 L514.90,253.41 L515.06,253.90 L515.21,254.40 L515.37,254.90 L515.53,255.40 L515.68,255.90 L515.84,256.40 L515.99,256.90 L516.15,257.41 L516.30,257.91 L516.46,258.41 L516.61,258.91 L516.76,259.40 L516.91,259.90 L517.06,260.39 L517.21,260.87 L517.35,261.35 L517.49,261.82 L517.63,262.29 L517.77,262.75 L517.90,263.20 L518.06,263.73 L518.21,264.26 L518.36,264.78 L518.50,265.29 L518.65,265.80 L518.79,266.30 L518.93,266.80 L519.06,267.30 L519.20,267.78 L519.33,268.27 L519.46,268.75 L519.59,269.23 L519.72,269.70 L519.85,270.18 L519.97,270.65 L520.10,271.12 L520.23,271.59 L520.35,272.06 L520.48,272.53 L520.60,273.00 L520.74,273.52 L520.87,274.04 L521.01,274.55 L521.14,275.05 L521.27,275.56 L521.40,276.06 L521.52,276.56 L521.65,277.05 L521.77,277.55 L521.90,278.04 L522.02,278.54 L522.15,279.03 L522.27,279.52 L522.40,280.02 L522.52,280.51 L522.65,281.00 L522.77,281.50 L522.90,282.00 L527.71,282.00 L527.59,281.50 L527.46,281.00 L527.33,280.51 L527.21,280.02 L527.08,279.52 L526.95,279.03 L526.83,278.54 L526.70,278.04 L526.58,277.55 L526.45,277.05 L526.32,276.56 L526.19,276.06 L526.06,275.56 L525.93,275.05 L525.80,274.55 L525.66,274.04 L525.53,273.52 L525.39,273.00 L525.26,272.53 L525.13,272.06 L525.01,271.59 L524.88,271.12 L524.75,270.65 L524.63,270.18 L524.50,269.70 L524.37,269.23 L524.24,268.75 L524.10,268.27 L523.97,267.78 L523.83,267.30 L523.69,266.80 L523.55,266.30 L523.41,265.80 L523.27,265.29 L523.12,264.78 L522.97,264.26 L522.81,263.73 L522.65,263.20 L522.52,262.75 L522.38,262.29 L522.24,261.82 L522.10,261.35 L521.95,260.87 L521.81,260.39 L521.66,259.90 L521.50,259.40 L521.35,258.91 L521.20,258.41 L521.04,257.91 L520.88,257.41 L520.73,256.90 L520.57,256.40 L520.41,255.90 L520.25,255.40 L520.09,254.90 L519.94,254.40 L519.78,253.90 L519.62,253.41 L519.47,252.93 L519.31,252.45 L519.16,251.97 L519.01,251.50 L518.85,250.99 L518.68,250.47 L518.51,249.96 L518.35,249.44 L518.18,248.92 L518.01,248.40 L517.84,247.88 L517.67,247.36 L517.50,246.84 L517.33,246.33 L517.16,245.83 L517.00,245.32 L516.83,244.83 L516.67,244.34 L516.51,243.86 L516.35,243.39 L516.20,242.93 L516.04,242.48 L515.90,242.04 L515.75,241.61 L515.61,241.20 L515.47,240.80 L515.25,240.16 L515.04,239.58 L514.85,239.03 L514.66,238.51 L514.48,238.03 L514.31,237.56 L514.14,237.11 L513.97,236.66 L513.80,236.21 L513.62,235.76 L513.44,235.30 L513.24,234.81 L513.04,234.30 L512.86,233.84 L512.67,233.37 L512.47,232.90 L512.27,232.42 L512.07,231.93 L511.87,231.45 L511.66,230.96 L511.46,230.47 L511.25,229.98 L511.04,229.49 L510.83,229.00 L510.62,228.52 L510.41,228.04 L510.21,227.57 L510.00,227.10 L509.79,226.60 L509.57,226.11 L509.35,225.61 L509.13,225.12 L508.91,224.63 L508.69,224.15 L508.47,223.66 L508.25,223.18 L508.03,222.71 L507.80,222.23 L507.58,221.77 L507.36,221.31 L507.14,220.85 L506.92,220.40 L506.69,219.93 L506.46,219.47 L506.24,219.02 L506.02,218.58 L505.80,218.14 L505.58,217.71 L505.36,217.29 L505.13,216.86 L504.90,216.42 L504.65,215.98 L504.39,215.53 L504.12,215.07 L503.83,214.60 L503.59,214.21 L503.34,213.82 L503.09,213.43 L502.83,213.03 L502.56,212.63 L502.29,212.23 L502.02,211.83 L501.73,211.42 L501.44,211.00 L501.15,210.58 L500.84,210.16 L500.53,209.72 L500.21,209.28 L499.88,208.83 L499.54,208.37 L499.19,207.90 L498.91,207.53 L498.61,207.15 L498.31,206.76 L497.99,206.36 L497.66,205.95 L497.33,205.54 L496.99,205.11 L496.65,204.69 L496.30,204.26 L495.96,203.83 L495.61,203.40 L495.26,202.98 L494.91,202.55 L494.57,202.13 L494.23,201.71 L493.89,201.30 L493.57,200.90 L493.25,200.51 L492.93,200.13 L492.63,199.76 L492.35,199.40 L491.96,198.92 L491.59,198.46 L491.25,198.01 L490.91,197.58 L490.59,197.17 L490.27,196.76 L489.96,196.36 L489.65,195.97 L489.34,195.58 L489.03,195.19 L488.71,194.80 L488.38,194.41 L488.04,194.01 L487.68,193.61 L487.31,193.20 L486.96,192.83 L486.61,192.45 L486.25,192.07 L485.88,191.69 L485.51,191.31 L485.13,190.92 L484.75,190.54 L484.36,190.15 L483.97,189.77 L483.58,189.39 L483.18,189.02 L482.79,188.65 L482.40,188.28 L482.00,187.92 L481.61,187.57 L481.23,187.23 L480.85,186.90 L480.42,186.54 L480.00,186.18 L479.58,185.84 L479.17,185.51 L478.76,185.19 L478.35,184.87 L477.94,184.55 L477.53,184.25 L477.11,183.94 L476.68,183.64 L476.25,183.33 L475.80,183.03 L475.34,182.72 L474.87,182.41 L474.38,182.10 L473.94,181.83 L473.48,181.56 L473.00,181.28 L472.51,181.00 L472.00,180.71 L471.49,180.43 L470.97,180.14 L470.44,179.86 L469.92,179.58 L469.40,179.31 L468.88,179.03 L468.38,178.77 L467.88,178.51 L467.41,178.27 L466.95,178.03 L466.51,177.81 L466.10,177.60 L465.72,177.40 L465.05,177.05 L464.47,176.76 L463.98,176.51 L463.53,176.29 L463.10,176.10 L462.66,175.91 L462.20,175.72 L461.68,175.52 L461.08,175.30 L460.61,175.12 L460.14,174.95 L459.67,174.78 L459.20,174.61 L458.71,174.44 L458.20,174.27 L457.65,174.09 L457.07,173.91 L456.44,173.72 L455.75,173.53 L455.00,173.32 L454.18,173.10 L453.74,172.98 L453.26,172.86 L452.76,172.74 L452.23,172.61 L451.72,172.47 L451.22,172.34 L450.71,172.20 L450.19,172.06 Z" fill="#dadada" stroke="none"/>
<path d="M338.90,163.60 L339.41,163.61 L339.91,163.62 L340.42,163.63 L340.92,163.63 L341.41,163.64 L341.90,163.65 L342.40,163.66 L342.88,163.67 L343.37,163.68 L343.86,163.69 L344.35,163.69 L344.83,163.70 L345.32,163.71 L345.81,163.72 L346.29,163.73 L346.78,163.74 L347.27,163.75 L347.77,163.75 L348.26,163.76 L348.76,163.77 L349.26,163.78 L349.76,163.79 L350.27,163.80 L350.78,163.81 L351.30,163.81 L351.82,163.82 L352.35,163.83 L352.88,163.84 L353.42,163.85 L353.96,163.86 L354.52,163.87 L355.08,163.87 L355.64,163.88 L356.22,163.89 L356.80,163.90 L357.25,163.91 L357.71,163.91 L358.17,163.92 L358.64,163.93 L359.11,163.93 L359.59,163.94 L360.07,163.94 L360.56,163.95 L361.05,163.95 L361.55,163.96 L362.05,163.97 L362.55,163.97 L363.06,163.98 L363.57,163.98 L364.09,163.99 L364.60,163.99 L365.12,164.00 L365.64,164.00 L366.17,164.01 L366.69,164.01 L367.22,164.02 L367.74,164.03 L368.27,164.03 L368.80,164.04 L369.32,164.04 L369.85,164.05 L370.38,164.05 L370.91,164.06 L371.43,164.07 L371.96,164.07 L372.48,164.08 L373.00,164.09 L373.52,164.09 L374.04,164.10 L374.56,164.11 L375.07,164.11 L375.58,164.12 L376.09,164.13 L376.59,164.14 L377.09,164.15 L377.59,164.15 L378.08,164.16 L378.57,164.17 L379.05,164.18 L379.53,164.19 L380.00,164.20 L380.54,164.21 L381.08,164.22 L381.62,164.24 L382.15,164.25 L382.69,164.26 L383.22,164.27 L383.75,164.29 L384.28,164.30 L384.81,164.31 L385.34,164.33 L385.87,164.34 L386.39,164.35 L386.92,164.37 L387.44,164.38 L387.95,164.40 L388.47,164.41 L388.98,164.43 L389.50,164.44 L390.01,164.46 L390.51,164.47 L391.02,164.49 L391.52,164.51 L392.02,164.52 L392.51,164.54 L393.01,164.55 L393.50,164.57 L393.98,164.59 L394.47,164.60 L394.95,164.62 L395.43,164.64 L395.90,164.65 L396.37,164.67 L396.84,164.69 L397.30,164.70 L397.76,164.72 L398.22,164.73 L398.67,164.75 L399.12,164.77 L399.56,164.78 L400.00,164.80 L400.58,164.82 L401.16,164.84 L401.73,164.87 L402.29,164.89 L402.85,164.91 L403.40,164.93 L403.95,164.95 L404.49,164.97 L405.02,165.00 L405.56,165.02 L406.08,165.04 L406.60,165.06 L407.11,165.09 L407.62,165.11 L408.12,165.13 L408.62,165.15 L409.11,165.18 L409.60,165.20 L410.08,165.22 L410.56,165.25 L411.02,165.27 L411.49,165.30 L411.95,165.32 L412.40,165.35 L412.85,165.37 L413.29,165.40 L413.73,165.42 L414.16,165.45 L414.58,165.47 L415.00,165.50 L415.61,165.54 L416.20,165.58 L416.77,165.62 L417.32,165.65 L417.85,165.69 L418.37,165.73 L418.87,165.77 L419.36,165.81 L419.84,165.85 L420.31,165.89 L420.78,165.93 L421.24,165.97 L421.70,166.02 L422.16,166.06 L422.62,166.11 L423.08,166.17 L423.55,166.22 L424.02,166.28 L424.51,166.34 L425.00,166.40 L425.50,166.47 L426.01,166.54 L426.53,166.61 L427.05,166.69 L427.57,166.77 L428.09,166.85 L428.62,166.93 L429.14,167.02 L429.67,167.10 L430.19,167.19 L430.70,167.28 L431.22,167.37 L431.72,167.47 L432.22,167.56 L432.71,167.65 L433.19,167.74 L433.66,167.83 L434.12,167.92 L434.57,168.01 L435.00,168.10 L435.58,168.22 L436.11,168.34 L436.61,168.45 L437.08,168.57 L437.52,168.68 L437.95,168.79 L438.38,168.91 L438.81,169.03 L439.26,169.15 L439.73,169.28 L440.23,169.42 L440.77,169.57 L441.36,169.73 L442.00,169.90 L442.41,170.01 L442.84,170.12 L443.29,170.24 L443.77,170.36 L444.26,170.49 L444.77,170.62 L445.29,170.76 L445.82,170.90 L446.36,171.04 L446.91,171.18 L447.46,171.33 L448.01,171.47 L448.56,171.62 L449.11,171.77 L449.65,171.91 L450.19,172.06 L450.71,172.20 L451.22,172.34 L451.72,172.47 L452.20,172.61 L452.66,172.74 L453.10,172.86 L453.51,172.98 L453.90,173.10 L454.61,173.32 L455.26,173.53 L455.86,173.72 L456.41,173.91 L456.91,174.09 L457.39,174.27 L457.83,174.44 L458.26,174.61 L458.67,174.78 L459.08,174.95 L459.49,175.12 L459.90,175.30 L460.42,175.52 L460.87,175.72 L461.27,175.91 L461.65,176.10 L462.03,176.29 L462.43,176.51 L462.88,176.76 L463.39,177.05 L464.00,177.40 L464.34,177.60 L464.71,177.81 L465.11,178.03 L465.52,178.27 L465.95,178.51 L466.39,178.77 L466.85,179.03 L467.31,179.31 L467.78,179.58 L468.25,179.86 L468.73,180.14 L469.20,180.43 L469.66,180.71 L470.12,181.00 L470.56,181.28 L470.99,181.56 L471.41,181.83 L471.80,182.10 L472.25,182.41 L472.69,182.72 L473.12,183.03 L473.53,183.33 L473.93,183.64 L474.33,183.94 L474.72,184.25 L475.10,184.55 L475.49,184.87 L475.87,185.19 L476.25,185.51 L476.63,185.84 L477.01,186.18 L477.40,186.54 L477.80,186.90 L478.16,187.23 L478.51,187.57 L478.88,187.92 L479.24,188.28 L479.60,188.65 L479.97,189.02 L480.34,189.39 L480.70,189.77 L481.06,190.15 L481.42,190.54 L481.78,190.92 L482.13,191.31 L482.48,191.69 L482.82,192.07 L483.15,192.45 L483.48,192.83 L483.80,193.20 L484.15,193.61 L484.48,194.01 L484.80,194.41 L485.10,194.80 L485.40,195.19 L485.69,195.58 L485.98,195.97 L486.27,196.36 L486.56,196.76 L486.86,197.17 L487.16,197.58 L487.47,198.01 L487.80,198.46 L488.14,198.92 L488.50,199.40 L488.77,199.76 L489.05,200.13 L489.34,200.51 L489.64,200.90 L489.95,201.30 L490.26,201.71 L490.58,202.13 L490.90,202.55 L491.22,202.98 L491.55,203.40 L491.88,203.83 L492.20,204.26 L492.52,204.69 L492.84,205.11 L493.16,205.54 L493.47,205.95 L493.77,206.36 L494.07,206.76 L494.36,207.15 L494.63,207.53 L494.90,207.90 L495.24,208.37 L495.56,208.83 L495.88,209.28 L496.19,209.72 L496.50,210.16 L496.79,210.58 L497.08,211.00 L497.36,211.42 L497.64,211.83 L497.91,212.23 L498.17,212.63 L498.42,213.03 L498.68,213.43 L498.92,213.82 L499.16,214.21 L499.40,214.60 L499.68,215.07 L499.94,215.53 L500.19,215.98 L500.43,216.42 L500.66,216.86 L500.88,217.29 L501.10,217.71 L501.31,218.14 L501.53,218.58 L501.74,219.02 L501.95,219.47 L502.17,219.93 L502.40,220.40 L502.61,220.85 L502.83,221.31 L503.04,221.77 L503.26,222.23 L503.47,222.71 L503.69,223.18 L503.90,223.66 L504.11,224.15 L504.33,224.63 L504.54,225.12 L504.76,225.61 L504.97,226.11 L505.19,226.60 L505.40,227.10 L505.60,227.57 L505.80,228.04 L506.01,228.52 L506.22,229.00 L506.42,229.49 L506.63,229.98 L506.83,230.47 L507.04,230.96 L507.24,231.45 L507.44,231.93 L507.64,232.42 L507.84,232.90 L508.03,233.37 L508.22,233.84 L508.40,234.30 L508.60,234.81 L508.79,235.30 L508.97,235.76 L509.15,236.21 L509.32,236.66 L509.48,237.11 L509.65,237.56 L509.82,238.03 L510.00,238.51 L510.18,239.03 L510.38,239.58 L510.58,240.16 L510.80,240.80 L510.94,241.20 L511.08,241.61 L511.22,242.04 L511.37,242.48 L511.52,242.93 L511.67,243.39 L511.83,243.86 L511.99,244.34 L512.15,244.83 L512.31,245.32 L512.47,245.83 L512.64,246.33 L512.81,246.84 L512.97,247.36 L513.14,247.88 L513.31,248.40 L513.48,248.92 L513.64,249.44 L513.81,249.96 L513.97,250.47 L514.14,250.99 L514.30,251.50 L514.45,251.97 L514.60,252.45 L514.75,252.93 L514.90,253.41 L515.06,253.90 L515.21,254.40 L515.37,254.90 L515.53,255.40 L515.68,255.90 L515.84,256.40 L515.99,256.90 L516.15,257.41 L516.30,257.91 L516.46,258.41 L516.61,258.91 L516.76,259.40 L516.91,259.90 L517.06,260.39 L517.21,260.87 L517.35,261.35 L517.49,261.82 L517.63,262.29 L517.77,262.75 L517.90,263.20 L518.06,263.73 L518.21,264.26 L518.36,264.78 L518.50,265.29 L518.65,265.80 L518.79,266.30 L518.93,266.80 L519.06,267.30 L519.20,267.78 L519.33,268.27 L519.46,268.75 L519.59,269.23 L519.72,269.70 L519.85,270.18 L519.97,270.65 L520.10,271.12 L520.23,271.59 L520.35,272.06 L520.48,272.53 L520.60,273.00 L520.74,273.52 L520.87,274.04 L521.01,274.55 L521.14,275.05 L521.27,275.56 L521.40,276.06 L521.52,276.56 L521.65,277.05 L521.77,277.55 L521.90,278.04 L522.02,278.54 L522.15,279.03 L522.27,279.52 L522.40,280.02 L522.52,280.51 L522.65,281.00 L522.77,281.50 L522.90,282.00" fill="none" stroke="#000000" stroke-width="1.65" stroke-linecap="butt" stroke-linejoin="round"/>
</g>
<line x1="84.68" y1="148.30" x2="84.68" y2="146.50" stroke="#262626" stroke-width="0.75" />
<line x1="84.68" y1="9.30" x2="84.68" y2="11.10" stroke="#262626" stroke-width="0.75" />
<line x1="95.50" y1="148.30" x2="95.50" y2="146.50" stroke="#262626" stroke-width="0.75" />
<line x1="95.50" y1="9.30" x2="95.50" y2="11.10" stroke="#262626" stroke-width="0.75" />
<line x1="103.17" y1="148.30" x2="103.17" y2="146.50" stroke="#262626" stroke-width="0.75" />
<line x1="103.17" y1="9.30" x2="103.17" y2="11.10" stroke="#262626" stroke-width="0.75" />
<line x1="109.12" y1="148.30" x2="109.12" y2="146.50" stroke="#262626" stroke-width="0.75" />
<line x1="109.12" y1="9.30" x2="109.12" y2="11.10" stroke="#262626" stroke-width="0.75" />
<line x1="113.98" y1="148.30" x2="113.98" y2="146.50" stroke="#262626" stroke-width="0.75" />
<line x1="113.98" y1="9.30" x2="113.98" y2="11.10" stroke="#262626" stroke-width="0.75" />
<line x1="118.09" y1="148.30" x2="118.09" y2="146.50" stroke="#262626" stroke-width="0.75" />
<line x1="118.09" y1="9.30" x2="118.09" y2="11.10" stroke="#262626" stroke-width="0.75" />
<line x1="121.65" y1="148.30" x2="121.65" y2="146.50" stroke="#262626" stroke-width="0.75" />
<line x1="121.65" y1="9.30" x2="121.65" y2="11.10" stroke="#262626" stroke-width="0.75" />
<line x1="124.79" y1="148.30" x2="124.79" y2="146.50" stroke="#262626" stroke-width="0.75" />
<line x1="124.79" y1="9.30" x2="124.79" y2="11.10" stroke="#262626" stroke-width="0.75" />
<line x1="127.60" y1="148.30" x2="127.60" y2="145.90" stroke="#262626" stroke-width="0.75" />
<line x1="127.60" y1="9.30" x2="127.60" y2="11.70" stroke="#262626" stroke-width="0.75" />
<line x1="146.08" y1="148.30" x2="146.08" y2="146.50" stroke="#262626" stroke-width="0.75" />
<line x1="146.08" y1="9.30" x2="146.08" y2="11.10" stroke="#262626" stroke-width="0.75" />
<line x1="156.90" y1="148.30" x2="156.90" y2="146.50" stroke="#262626" stroke-width="0.75" />
<line x1="156.90" y1="9.30" x2="156.90" y2="11.10" stroke="#262626" stroke-width="0.75" />
<line x1="164.57" y1="148.30" x2="164.57" y2="146.50" stroke="#262626" stroke-width="0.75" />
<line x1="164.57" y1="9.30" x2="164.57" y2="11.10" stroke="#262626" stroke-width="0.75" />
<line x1="170.52" y1="148.30" x2="170.52" y2="146.50" stroke="#262626" stroke-width="0.75" />
<line x1="170.52" y1="9.30" x2="170.52" y2="11.10" stroke="#262626" stroke-width="0.75" />
<line x1="175.38" y1="148.30" x2="175.38" y2="146.50" stroke="#262626" stroke-width="0.75" />
<line x1="175.38" y1="9.30" x2="175.38" y2="11.10" stroke="#262626" stroke-width="0.75" />
<line x1="179.49" y1="148.30" x2="179.49" y2="146.50" stroke="#262626" stroke-width="0.75" />
<line x1="179.49" y1="9.30" x2="179.49" y2="11.10" stroke="#262626" stroke-width="0.75" />
<line x1="183.05" y1="148.30" x2="183.05" y2="146.50" stroke="#262626" stroke-width="0.75" />
<line x1="183.05" y1="9.30" x2="183.05" y2="11.10" stroke="#262626" stroke-width="0.75" />
<line x1="186.19" y1="148.30" x2="186.19" y2="146.50" stroke="#262626" stroke-width="0.75" />
<line x1="186.19" y1="9.30" x2="186.19" y2="11.10" stroke="#262626" stroke-width="0.75" />
<line x1="189.00" y1="148.30" x2="189.00" y2="145.90" stroke="#262626" stroke-width="0.75" />
<line x1="189.00" y1="9.30" x2="189.00" y2="11.70" stroke="#262626" stroke-width="0.75" />
<line x1="207.48" y1="148.30" x2="207.48" y2="146.50" stroke="#262626" stroke-width="0.75" />
<line x1="207.48" y1="9.30" x2="207.48" y2="11.10" stroke="#262626" stroke-width="0.75" />
<line x1="218.30" y1="148.30" x2="218.30" y2="146.50" stroke="#262626" stroke-width="0.75" />
<line x1="218.30" y1="9.30" x2="218.30" y2="11.10" stroke="#262626" stroke-width="0.75" />
<line x1="225.97" y1="148.30" x2="225.97" y2="146.50" stroke="#262626" stroke-width="0.75" />
<line x1="225.97" y1="9.30" x2="225.97" y2="11.10" stroke="#262626" stroke-width="0.75" />
<line x1="231.92" y1="148.30" x2="231.92" y2="146.50" stroke="#262626" stroke-width="0.75" />
<line x1="231.92" y1="9.30" x2="231.92" y2="11.10" stroke="#262626" stroke-width="0.75" />
<line x1="236.78" y1="148.30" x2="236.78" y2="146.50" stroke="#262626" stroke-width="0.75" />
<line x1="236.78" y1="9.30" x2="236.78" y2="11.10" stroke="#262626" stroke-width="0.75" />
<line x1="240.89" y1="148.30" x2="240.89" y2="146.50" stroke="#262626" stroke-width="0.75" />
<line x1="240.89" y1="9.30" x2="240.89" y2="11.10" stroke="#262626" stroke-width="0.75" />
<line x1="244.45" y1="148.30" x2="244.45" y2="146.50" stroke="#262626" stroke-width="0.75" />
<line x1="244.45" y1="9.30" x2="244.45" y2="11.10" stroke="#262626" stroke-width="0.75" />
<line x1="247.59" y1="148.30" x2="247.59" y2="146.50" stroke="#262626" stroke-width="0.75" />
<line x1="247.59" y1="9.30" x2="247.59" y2="11.10" stroke="#262626" stroke-width="0.75" />
<line x1="84.68" y1="297.30" x2="84.68" y2="295.50" stroke="#262626" stroke-width="0.75" />
<line x1="84.68" y1="158.80" x2="84.68" y2="160.60" stroke="#262626" stroke-width="0.75" />
<line x1="95.50" y1="297.30" x2="95.50" y2="295.50" stroke="#262626" stroke-width="0.75" />
<line x1="95.50" y1="158.80" x2="95.50" y2="160.60" stroke="#262626" stroke-width="0.75" />
<line x1="103.17" y1="297.30" x2="103.17" y2="295.50" stroke="#262626" stroke-width="0.75" />
<line x1="103.17" y1="158.80" x2="103.17" y2="160.60" stroke="#262626" stroke-width="0.75" />
<line x1="109.12" y1="297.30" x2="109.12" y2="295.50" stroke="#262626" stroke-width="0.75" />
<line x1="109.12" y1="158.80" x2="109.12" y2="160.60" stroke="#262626" stroke-width="0.75" />
<line x1="113.98" y1="297.30" x2="113.98" y2="295.50" stroke="#262626" stroke-width="0.75" />
<line x1="113.98" y1="158.80" x2="113.98" y2="160.60" stroke="#262626" stroke-width="0.75" />
<line x1="118.09" y1="297.30" x2="118.09" y2="295.50" stroke="#262626" stroke-width="0.75" />
<line x1="118.09" y1="158.80" x2="118.09" y2="160.60" stroke="#262626" stroke-width="0.75" />
<line x1="121.65" y1="297.30" x2="121.65" y2="295.50" stroke="#262626" stroke-width="0.75" />
<line x1="121.65" y1="158.80" x2="121.65" y2="160.60" stroke="#262626" stroke-width="0.75" />
<line x1="124.79" y1="297.30" x2="124.79" y2="295.50" stroke="#262626" stroke-width="0.75" />
<line x1="124.79" y1="158.80" x2="124.79" y2="160.60" stroke="#262626" stroke-width="0.75" />
<line x1="127.60" y1="297.30" x2="127.60" y2="294.90" stroke="#262626" stroke-width="0.75" />
<line x1="127.60" y1="158.80" x2="127.60" y2="161.20" stroke="#262626" stroke-width="0.75" />
<line x1="146.08" y1="297.30" x2="146.08" y2="295.50" stroke="#262626" stroke-width="0.75" />
<line x1="146.08" y1="158.80" x2="146.08" y2="160.60" stroke="#262626" stroke-width="0.75" />
<line x1="156.90" y1="297.30" x2="156.90" y2="295.50" stroke="#262626" stroke-width="0.75" />
<line x1="156.90" y1="158.80" x2="156.90" y2="160.60" stroke="#262626" stroke-width="0.75" />
<line x1="164.57" y1="297.30" x2="164.57" y2="295.50" stroke="#262626" stroke-width="0.75" />
<line x1="164.57" y1="158.80" x2="164.57" y2="160.60" stroke="#262626" stroke-width="0.75" />
<line x1="170.52" y1="297.30" x2="170.52" y2="295.50" stroke="#262626" stroke-width="0.75" />
<line x1="170.52" y1="158.80" x2="170.52" y2="160.60" stroke="#262626" stroke-width="0.75" />
<line x1="175.38" y1="297.30" x2="175.38" y2="295.50" stroke="#262626" stroke-width="0.75" />
<line x1="175.38" y1="158.80" x2="175.38" y2="160.60" stroke="#262626" stroke-width="0.75" />
<line x1="179.49" y1="297.30" x2="179.49" y2="295.50" stroke="#262626" stroke-width="0.75" />
<line x1="179.49" y1="158.80" x2="179.49" y2="160.60" stroke="#262626" stroke-width="0.75" />
<line x1="183.05" y1="297.30" x2="183.05" y2="295.50" stroke="#262626" stroke-width="0.75" />
<line x1="183.05" y1="158.80" x2="183.05" y2="160.60" stroke="#262626" stroke-width="0.75" />
<line x1="186.19" y1="297.30" x2="186.19" y2="295.50" stroke="#262626" stroke-width="0.75" />
<line x1="186.19" y1="158.80" x2="186.19" y2="160.60" stroke="#262626" stroke-width="0.75" />
<line x1="189.00" y1="297.30" x2="189.00" y2="294.90" stroke="#262626" stroke-width="0.75" />
<line x1="189.00" y1="158.80" x2="189.00" y2="161.20" stroke="#262626" stroke-width="0.75" />
<line x1="207.48" y1="297.30" x2="207.48" y2="295.50" stroke="#262626" stroke-width="0.75" />
<line x1="207.48" y1="158.80" x2="207.48" y2="160.60" stroke="#262626" stroke-width="0.75" />
<line x1="218.30" y1="297.30" x2="218.30" y2="295.50" stroke="#262626" stroke-width="0.75" />
<line x1="218.30" y1="158.80" x2="218.30" y2="160.60" stroke="#262626" stroke-width="0.75" />
<line x1="225.97" y1="297.30" x2="225.97" y2="295.50" stroke="#262626" stroke-width="0.75" />
<line x1="225.97" y1="158.80" x2="225.97" y2="160.60" stroke="#262626" stroke-width="0.75" />
<line x1="231.92" y1="297.30" x2="231.92" y2="295.50" stroke="#262626" stroke-width="0.75" />
<line x1="231.92" y1="158.80" x2="231.92" y2="160.60" stroke="#262626" stroke-width="0.75" />
<line x1="236.78" y1="297.30" x2="236.78" y2="295.50" stroke="#262626" stroke-width="0.75" />
<line x1="236.78" y1="158.80" x2="236.78" y2="160.60" stroke="#262626" stroke-width="0.75" />
<line x1="240.89" y1="297.30" x2="240.89" y2="295.50" stroke="#262626" stroke-width="0.75" />
<line x1="240.89" y1="158.80" x2="240.89" y2="160.60" stroke="#262626" stroke-width="0.75" />
<line x1="244.45" y1="297.30" x2="244.45" y2="295.50" stroke="#262626" stroke-width="0.75" />
<line x1="244.45" y1="158.80" x2="244.45" y2="160.60" stroke="#262626" stroke-width="0.75" />
<line x1="247.59" y1="297.30" x2="247.59" y2="295.50" stroke="#262626" stroke-width="0.75" />
<line x1="247.59" y1="158.80" x2="247.59" y2="160.60" stroke="#262626" stroke-width="0.75" />
<line x1="357.36" y1="147.50" x2="357.36" y2="145.70" stroke="#262626" stroke-width="0.75" />
<line x1="357.36" y1="9.00" x2="357.36" y2="10.80" stroke="#262626" stroke-width="0.75" />
<line x1="368.16" y1="147.50" x2="368.16" y2="145.70" stroke="#262626" stroke-width="0.75" />
<line x1="368.16" y1="9.00" x2="368.16" y2="10.80" stroke="#262626" stroke-width="0.75" />
<line x1="375.83" y1="147.50" x2="375.83" y2="145.70" stroke="#262626" stroke-width="0.75" />
<line x1="375.83" y1="9.00" x2="375.83" y2="10.80" stroke="#262626" stroke-width="0.75" />
<line x1="381.77" y1="147.50" x2="381.77" y2="145.70" stroke="#262626" stroke-width="0.75" />
<line x1="381.77" y1="9.00" x2="381.77" y2="10.80" stroke="#262626" stroke-width="0.75" />
<line x1="386.63" y1="147.50" x2="386.63" y2="145.70" stroke="#262626" stroke-width="0.75" />
<line x1="386.63" y1="9.00" x2="386.63" y2="10.80" stroke="#262626" stroke-width="0.75" />
<line x1="390.73" y1="147.50" x2="390.73" y2="145.70" stroke="#262626" stroke-width="0.75" />
<line x1="390.73" y1="9.00" x2="390.73" y2="10.80" stroke="#262626" stroke-width="0.75" />
<line x1="394.29" y1="147.50" x2="394.29" y2="145.70" stroke="#262626" stroke-width="0.75" />
<line x1="394.29" y1="9.00" x2="394.29" y2="10.80" stroke="#262626" stroke-width="0.75" />
<line x1="397.43" y1="147.50" x2="397.43" y2="145.70" stroke="#262626" stroke-width="0.75" />
<line x1="397.43" y1="9.00" x2="397.43" y2="10.80" stroke="#262626" stroke-width="0.75" />
<line x1="400.23" y1="147.50" x2="400.23" y2="145.10" stroke="#262626" stroke-width="0.75" />
<line x1="400.23" y1="9.00" x2="400.23" y2="11.40" stroke="#262626" stroke-width="0.75" />
<line x1="418.70" y1="147.50" x2="418.70" y2="145.70" stroke="#262626" stroke-width="0.75" />
<line x1="418.70" y1="9.00" x2="418.70" y2="10.80" stroke="#262626" stroke-width="0.75" />
<line x1="429.50" y1="147.50" x2="429.50" y2="145.70" stroke="#262626" stroke-width="0.75" />
<line x1="429.50" y1="9.00" x2="429.50" y2="10.80" stroke="#262626" stroke-width="0.75" />
<line x1="437.16" y1="147.50" x2="437.16" y2="145.70" stroke="#262626" stroke-width="0.75" />
<line x1="437.16" y1="9.00" x2="437.16" y2="10.80" stroke="#262626" stroke-width="0.75" />
<line x1="443.10" y1="147.50" x2="443.10" y2="145.70" stroke="#262626" stroke-width="0.75" />
<line x1="443.10" y1="9.00" x2="443.10" y2="10.80" stroke="#262626" stroke-width="0.75" />
<line x1="447.96" y1="147.50" x2="447.96" y2="145.70" stroke="#262626" stroke-width="0.75" />
<line x1="447.96" y1="9.00" x2="447.96" y2="10.80" stroke="#262626" stroke-width="0.75" />
<line x1="452.07" y1="147.50" x2="452.07" y2="145.70" stroke="#262626" stroke-width="0.75" />
<line x1="452.07" y1="9.00" x2="452.07" y2="10.80" stroke="#262626" stroke-width="0.75" />
<line x1="455.62" y1="147.50" x2="455.62" y2="145.70" stroke="#262626" stroke-width="0.75" />
<line x1="455.62" y1="9.00" x2="455.62" y2="10.80" stroke="#262626" stroke-width="0.75" />
<line x1="458.76" y1="147.50" x2="458.76" y2="145.70" stroke="#262626" stroke-width="0.75" />
<line x1="458.76" y1="9.00" x2="458.76" y2="10.80" stroke="#262626" stroke-width="0.75" />
<line x1="461.57" y1="147.50" x2="461.57" y2="145.10" stroke="#262626" stroke-width="0.75" />
<line x1="461.57" y1="9.00" x2="461.57" y2="11.40" stroke="#262626" stroke-width="0.75" />
<line x1="480.03" y1="147.50" x2="480.03" y2="145.70" stroke="#262626" stroke-width="0.75" />
<line x1="480.03" y1="9.00" x2="480.03" y2="10.80" stroke="#262626" stroke-width="0.75" />
<line x1="490.83" y1="147.50" x2="490.83" y2="145.70" stroke="#262626" stroke-width="0.75" />
<line x1="490.83" y1="9.00" x2="490.83" y2="10.80" stroke="#262626" stroke-width="0.75" />
<line x1="498.49" y1="147.50" x2="498.49" y2="145.70" stroke="#262626" stroke-width="0.75" />
<line x1="498.49" y1="9.00" x2="498.49" y2="10.80" stroke="#262626" stroke-width="0.75" />
<line x1="504.44" y1="147.50" x2="504.44" y2="145.70" stroke="#262626" stroke-width="0.75" />
<line x1="504.44" y1="9.00" x2="504.44" y2="10.80" stroke="#262626" stroke-width="0.75" />
<line x1="509.29" y1="147.50" x2="509.29" y2="145.70" stroke="#262626" stroke-width="0.75" />
<line x1="509.29" y1="9.00" x2="509.29" y2="10.80" stroke="#262626" stroke-width="0.75" />
<line x1="513.40" y1="147.50" x2="513.40" y2="145.70" stroke="#262626" stroke-width="0.75" />
<line x1="513.40" y1="9.00" x2="513.40" y2="10.80" stroke="#262626" stroke-width="0.75" />
<line x1="516.96" y1="147.50" x2="516.96" y2="145.70" stroke="#262626" stroke-width="0.75" />
<line x1="516.96" y1="9.00" x2="516.96" y2="10.80" stroke="#262626" stroke-width="0.75" />
<line x1="520.09" y1="147.50" x2="520.09" y2="145.70" stroke="#262626" stroke-width="0.75" />
<line x1="520.09" y1="9.00" x2="520.09" y2="10.80" stroke="#262626" stroke-width="0.75" />
<line x1="357.36" y1="297.30" x2="357.36" y2="295.50" stroke="#262626" stroke-width="0.75" />
<line x1="357.36" y1="158.80" x2="357.36" y2="160.60" stroke="#262626" stroke-width="0.75" />
<line x1="368.16" y1="297.30" x2="368.16" y2="295.50" stroke="#262626" stroke-width="0.75" />
<line x1="368.16" y1="158.80" x2="368.16" y2="160.60" stroke="#262626" stroke-width="0.75" />
<line x1="375.83" y1="297.30" x2="375.83" y2="295.50" stroke="#262626" stroke-width="0.75" />
<line x1="375.83" y1="158.80" x2="375.83" y2="160.60" stroke="#262626" stroke-width="0.75" />
<line x1="381.77" y1="297.30" x2="381.77" y2="295.50" stroke="#262626" stroke-width="0.75" />
<line x1="381.77" y1="158.80" x2="381.77" y2="160.60" stroke="#262626" stroke-width="0.75" />
<line x1="386.63" y1="297.30" x2="386.63" y2="295.50" stroke="#262626" stroke-width="0.75" />
<line x1="386.63" y1="158.80" x2="386.63" y2="160.60" stroke="#262626" stroke-width="0.75" />
<line x1="390.73" y1="297.30" x2="390.73" y2="295.50" stroke="#262626" stroke-width="0.75" />
<line x1="390.73" y1="158.80" x2="390.73" y2="160.60" stroke="#262626" stroke-width="0.75" />
<line x1="394.29" y1="297.30" x2="394.29" y2="295.50" stroke="#262626" stroke-width="0.75" />
<line x1="394.29" y1="158.80" x2="394.29" y2="160.60" stroke="#262626" stroke-width="0.75" />
<line x1="397.43" y1="297.30" x2="397.43" y2="295.50" stroke="#262626" stroke-width="0.75" />
<line x1="397.43" y1="158.80" x2="397.43" y2="160.60" stroke="#262626" stroke-width="0.75" />
<line x1="400.23" y1="297.30" x2="400.23" y2="294.90" stroke="#262626" stroke-width="0.75" />
<line x1="400.23" y1="158.80" x2="400.23" y2="161.20" stroke="#262626" stroke-width="0.75" />
<line x1="418.70" y1="297.30" x2="418.70" y2="295.50" stroke="#262626" stroke-width="0.75" />
<line x1="418.70" y1="158.80" x2="418.70" y2="160.60" stroke="#262626" stroke-width="0.75" />
<line x1="429.50" y1="297.30" x2="429.50" y2="295.50" stroke="#262626" stroke-width="0.75" />
<line x1="429.50" y1="158.80" x2="429.50" y2="160.60" stroke="#262626" stroke-width="0.75" />
<line x1="437.16" y1="297.30" x2="437.16" y2="295.50" stroke="#262626" stroke-width="0.75" />
<line x1="437.16" y1="158.80" x2="437.16" y2="160.60" stroke="#262626" stroke-width="0.75" />
<line x1="443.10" y1="297.30" x2="443.10" y2="295.50" stroke="#262626" stroke-width="0.75" />
<line x1="443.10" y1="158.80" x2="443.10" y2="160.60" stroke="#262626" stroke-width="0.75" />
<line x1="447.96" y1="297.30" x2="447.96" y2="295.50" stroke="#262626" stroke-width="0.75" />
<line x1="447.96" y1="158.80" x2="447.96" y2="160.60" stroke="#262626" stroke-width="0.75" />
<line x1="452.07" y1="297.30" x2="452.07" y2="295.50" stroke="#262626" stroke-width="0.75" />
<line x1="452.07" y1="158.80" x2="452.07" y2="160.60" stroke="#262626" stroke-width="0.75" />
<line x1="455.62" y1="297.30" x2="455.62" y2="295.50" stroke="#262626" stroke-width="0.75" />
<line x1="455.62" y1="158.80" x2="455.62" y2="160.60" stroke="#262626" stroke-width="0.75" />
<line x1="458.76" y1="297.30" x2="458.76" y2="295.50" stroke="#262626" stroke-width="0.75" />
<line x1="458.76" y1="158.80" x2="458.76" y2="160.60" stroke="#262626" stroke-width="0.75" />
<line x1="461.57" y1="297.30" x2="461.57" y2="294.90" stroke="#262626" stroke-width="0.75" />
<line x1="461.57" y1="158.80" x2="461.57" y2="161.20" stroke="#262626" stroke-width="0.75" />
<line x1="480.03" y1="297.30" x2="480.03" y2="295.50" stroke="#262626" stroke-width="0.75" />
<line x1="480.03" y1="158.80" x2="480.03" y2="160.60" stroke="#262626" stroke-width="0.75" />
<line x1="490.83" y1="297.30" x2="490.83" y2="295.50" stroke="#262626" stroke-width="0.75" />
<line x1="490.83" y1="158.80" x2="490.83" y2="160.60" stroke="#262626" stroke-width="0.75" />
<line x1="498.49" y1="297.30" x2="498.49" y2="295.50" stroke="#262626" stroke-width="0.75" />
<line x1="498.49" y1="158.80" x2="498.49" y2="160.60" stroke="#262626" stroke-width="0.75" />
<line x1="504.44" y1="297.30" x2="504.44" y2="295.50" stroke="#262626" stroke-width="0.75" />
<line x1="504.44" y1="158.80" x2="504.44" y2="160.60" stroke="#262626" stroke-width="0.75" />
<line x1="509.29" y1="297.30" x2="509.29" y2="295.50" stroke="#262626" stroke-width="0.75" />
<line x1="509.29" y1="158.80" x2="509.29" y2="160.60" stroke="#262626" stroke-width="0.75" />
<line x1="513.40" y1="297.30" x2="513.40" y2="295.50" stroke="#262626" stroke-width="0.75" />
<line x1="513.40" y1="158.80" x2="513.40" y2="160.60" stroke="#262626" stroke-width="0.75" />
<line x1="516.96" y1="297.30" x2="516.96" y2="295.50" stroke="#262626" stroke-width="0.75" />
<line x1="516.96" y1="158.80" x2="516.96" y2="160.60" stroke="#262626" stroke-width="0.75" />
<line x1="520.09" y1="297.30" x2="520.09" y2="295.50" stroke="#262626" stroke-width="0.75" />
<line x1="520.09" y1="158.80" x2="520.09" y2="160.60" stroke="#262626" stroke-width="0.75" />
<line x1="66.20" y1="101.47" x2="68.70" y2="101.47" stroke="#262626" stroke-width="0.7" />
<line x1="250.40" y1="101.47" x2="247.90" y2="101.47" stroke="#262626" stroke-width="0.7" />
<line x1="66.20" y1="55.38" x2="68.70" y2="55.38" stroke="#262626" stroke-width="0.7" />
<line x1="250.40" y1="55.38" x2="247.90" y2="55.38" stroke="#262626" stroke-width="0.7" />
<line x1="66.20" y1="185.61" x2="68.20" y2="185.61" stroke="#262626" stroke-width="0.8" />
<line x1="250.40" y1="185.61" x2="248.40" y2="185.61" stroke="#262626" stroke-width="0.8" />
<line x1="66.20" y1="207.95" x2="68.60" y2="207.95" stroke="#262626" stroke-width="0.8" />
<line x1="250.40" y1="207.95" x2="248.00" y2="207.95" stroke="#262626" stroke-width="0.8" />
<line x1="66.20" y1="230.29" x2="68.20" y2="230.29" stroke="#262626" stroke-width="0.8" />
<line x1="250.40" y1="230.29" x2="248.40" y2="230.29" stroke="#262626" stroke-width="0.8" />
<line x1="66.20" y1="252.63" x2="68.60" y2="252.63" stroke="#262626" stroke-width="0.8" />
<line x1="250.40" y1="252.63" x2="248.00" y2="252.63" stroke="#262626" stroke-width="0.8" />
<line x1="66.20" y1="274.97" x2="68.20" y2="274.97" stroke="#262626" stroke-width="0.8" />
<line x1="250.40" y1="274.97" x2="248.40" y2="274.97" stroke="#262626" stroke-width="0.8" />
<line x1="338.90" y1="185.61" x2="340.90" y2="185.61" stroke="#262626" stroke-width="0.8" />
<line x1="522.90" y1="185.61" x2="520.90" y2="185.61" stroke="#262626" stroke-width="0.8" />
<line x1="338.90" y1="207.95" x2="341.30" y2="207.95" stroke="#262626" stroke-width="0.8" />
<line x1="522.90" y1="207.95" x2="520.50" y2="207.95" stroke="#262626" stroke-width="0.8" />
<line x1="338.90" y1="230.29" x2="340.90" y2="230.29" stroke="#262626" stroke-width="0.8" />
<line x1="522.90" y1="230.29" x2="520.90" y2="230.29" stroke="#262626" stroke-width="0.8" />
<line x1="338.90" y1="252.63" x2="341.30" y2="252.63" stroke="#262626" stroke-width="0.8" />
<line x1="522.90" y1="252.63" x2="520.50" y2="252.63" stroke="#262626" stroke-width="0.8" />
<line x1="338.90" y1="274.97" x2="340.90" y2="274.97" stroke="#262626" stroke-width="0.8" />
<line x1="522.90" y1="274.97" x2="520.90" y2="274.97" stroke="#262626" stroke-width="0.8" />
<line x1="338.90" y1="144.52" x2="340.90" y2="144.52" stroke="#262626" stroke-width="0.9" />
<line x1="522.90" y1="144.52" x2="520.90" y2="144.52" stroke="#262626" stroke-width="0.9" />
<line x1="338.90" y1="141.71" x2="340.90" y2="141.71" stroke="#262626" stroke-width="0.9" />
<line x1="522.90" y1="141.71" x2="520.90" y2="141.71" stroke="#262626" stroke-width="0.9" />
<line x1="338.90" y1="139.27" x2="340.90" y2="139.27" stroke="#262626" stroke-width="0.9" />
<line x1="522.90" y1="139.27" x2="520.90" y2="139.27" stroke="#262626" stroke-width="0.9" />
<line x1="338.90" y1="137.12" x2="340.90" y2="137.12" stroke="#262626" stroke-width="0.9" />
<line x1="522.90" y1="137.12" x2="520.90" y2="137.12" stroke="#262626" stroke-width="0.9" />
<line x1="338.90" y1="135.20" x2="341.30" y2="135.20" stroke="#262626" stroke-width="0.9" />
<line x1="522.90" y1="135.20" x2="520.50" y2="135.20" stroke="#262626" stroke-width="0.9" />
<line x1="338.90" y1="122.56" x2="340.90" y2="122.56" stroke="#262626" stroke-width="0.9" />
<line x1="522.90" y1="122.56" x2="520.90" y2="122.56" stroke="#262626" stroke-width="0.9" />
<line x1="338.90" y1="115.16" x2="340.90" y2="115.16" stroke="#262626" stroke-width="0.9" />
<line x1="522.90" y1="115.16" x2="520.90" y2="115.16" stroke="#262626" stroke-width="0.9" />
<line x1="338.90" y1="109.91" x2="340.90" y2="109.91" stroke="#262626" stroke-width="0.9" />
<line x1="522.90" y1="109.91" x2="520.90" y2="109.91" stroke="#262626" stroke-width="0.9" />
<line x1="338.90" y1="105.84" x2="340.90" y2="105.84" stroke="#262626" stroke-width="0.9" />
<line x1="522.90" y1="105.84" x2="520.90" y2="105.84" stroke="#262626" stroke-width="0.9" />
<line x1="338.90" y1="102.52" x2="340.90" y2="102.52" stroke="#262626" stroke-width="0.9" />
<line x1="522.90" y1="102.52" x2="520.90" y2="102.52" stroke="#262626" stroke-width="0.9" />
<line x1="338.90" y1="99.71" x2="340.90" y2="99.71" stroke="#262626" stroke-width="0.9" />
<line x1="522.90" y1="99.71" x2="520.90" y2="99.71" stroke="#262626" stroke-width="0.9" />
<line x1="338.90" y1="97.27" x2="340.90" y2="97.27" stroke="#262626" stroke-width="0.9" />
<line x1="522.90" y1="97.27" x2="520.90" y2="97.27" stroke="#262626" stroke-width="0.9" />
<line x1="338.90" y1="95.12" x2="340.90" y2="95.12" stroke="#262626" stroke-width="0.9" />
<line x1="522.90" y1="95.12" x2="520.90" y2="95.12" stroke="#262626" stroke-width="0.9" />
<line x1="338.90" y1="93.20" x2="341.30" y2="93.20" stroke="#262626" stroke-width="0.9" />
<line x1="522.90" y1="93.20" x2="520.50" y2="93.20" stroke="#262626" stroke-width="0.9" />
<line x1="338.90" y1="80.56" x2="340.90" y2="80.56" stroke="#262626" stroke-width="0.9" />
<line x1="522.90" y1="80.56" x2="520.90" y2="80.56" stroke="#262626" stroke-width="0.9" />
<line x1="338.90" y1="73.16" x2="340.90" y2="73.16" stroke="#262626" stroke-width="0.9" />
<line x1="522.90" y1="73.16" x2="520.90" y2="73.16" stroke="#262626" stroke-width="0.9" />
<line x1="338.90" y1="67.91" x2="340.90" y2="67.91" stroke="#262626" stroke-width="0.9" />
<line x1="522.90" y1="67.91" x2="520.90" y2="67.91" stroke="#262626" stroke-width="0.9" />
<line x1="338.90" y1="63.84" x2="340.90" y2="63.84" stroke="#262626" stroke-width="0.9" />
<line x1="522.90" y1="63.84" x2="520.90" y2="63.84" stroke="#262626" stroke-width="0.9" />
<line x1="338.90" y1="60.52" x2="340.90" y2="60.52" stroke="#262626" stroke-width="0.9" />
<line x1="522.90" y1="60.52" x2="520.90" y2="60.52" stroke="#262626" stroke-width="0.9" />
<line x1="338.90" y1="57.71" x2="340.90" y2="57.71" stroke="#262626" stroke-width="0.9" />
<line x1="522.90" y1="57.71" x2="520.90" y2="57.71" stroke="#262626" stroke-width="0.9" />
<line x1="338.90" y1="55.27" x2="340.90" y2="55.27" stroke="#262626" stroke-width="0.9" />
<line x1="522.90" y1="55.27" x2="520.90" y2="55.27" stroke="#262626" stroke-width="0.9" />
<line x1="338.90" y1="53.12" x2="340.90" y2="53.12" stroke="#262626" stroke-width="0.9" />
<line x1="522.90" y1="53.12" x2="520.90" y2="53.12" stroke="#262626" stroke-width="0.9" />
<line x1="338.90" y1="51.20" x2="341.30" y2="51.20" stroke="#262626" stroke-width="0.9" />
<line x1="522.90" y1="51.20" x2="520.50" y2="51.20" stroke="#262626" stroke-width="0.9" />
<line x1="338.90" y1="38.56" x2="340.90" y2="38.56" stroke="#262626" stroke-width="0.9" />
<line x1="522.90" y1="38.56" x2="520.90" y2="38.56" stroke="#262626" stroke-width="0.9" />
<line x1="338.90" y1="31.16" x2="340.90" y2="31.16" stroke="#262626" stroke-width="0.9" />
<line x1="522.90" y1="31.16" x2="520.90" y2="31.16" stroke="#262626" stroke-width="0.9" />
<line x1="338.90" y1="25.91" x2="340.90" y2="25.91" stroke="#262626" stroke-width="0.9" />
<line x1="522.90" y1="25.91" x2="520.90" y2="25.91" stroke="#262626" stroke-width="0.9" />
<line x1="338.90" y1="21.84" x2="340.90" y2="21.84" stroke="#262626" stroke-width="0.9" />
<line x1="522.90" y1="21.84" x2="520.90" y2="21.84" stroke="#262626" stroke-width="0.9" />
<line x1="338.90" y1="18.52" x2="340.90" y2="18.52" stroke="#262626" stroke-width="0.9" />
<line x1="522.90" y1="18.52" x2="520.90" y2="18.52" stroke="#262626" stroke-width="0.9" />
<line x1="338.90" y1="15.71" x2="340.90" y2="15.71" stroke="#262626" stroke-width="0.9" />
<line x1="522.90" y1="15.71" x2="520.90" y2="15.71" stroke="#262626" stroke-width="0.9" />
<line x1="338.90" y1="13.27" x2="340.90" y2="13.27" stroke="#262626" stroke-width="0.9" />
<line x1="522.90" y1="13.27" x2="520.90" y2="13.27" stroke="#262626" stroke-width="0.9" />
<line x1="338.90" y1="11.12" x2="340.90" y2="11.12" stroke="#262626" stroke-width="0.9" />
<line x1="522.90" y1="11.12" x2="520.90" y2="11.12" stroke="#262626" stroke-width="0.9" />
<line x1="65.50" y1="9.30" x2="250.90" y2="9.30" stroke="#262626" stroke-width="1.0" />
<line x1="65.50" y1="148.30" x2="250.90" y2="148.30" stroke="#262626" stroke-width="1.0" />
<line x1="250.40" y1="9.30" x2="250.40" y2="148.30" stroke="#262626" stroke-width="1.0" />
<line x1="66.00" y1="9.30" x2="66.00" y2="148.30" stroke="#262626" stroke-width="0.65" />
<line x1="65.50" y1="158.80" x2="250.90" y2="158.80" stroke="#262626" stroke-width="1.0" />
<line x1="65.50" y1="297.30" x2="250.90" y2="297.30" stroke="#262626" stroke-width="1.0" />
<line x1="250.40" y1="158.80" x2="250.40" y2="297.30" stroke="#262626" stroke-width="1.0" />
<line x1="66.00" y1="158.80" x2="66.00" y2="297.30" stroke="#262626" stroke-width="0.65" />
<line x1="338.10" y1="9.00" x2="523.40" y2="9.00" stroke="#262626" stroke-width="1.0" />
<line x1="338.10" y1="147.50" x2="523.40" y2="147.50" stroke="#262626" stroke-width="1.0" />
<line x1="522.90" y1="9.00" x2="522.90" y2="147.50" stroke="#262626" stroke-width="1.0" />
<line x1="338.60" y1="9.00" x2="338.60" y2="147.50" stroke="#262626" stroke-width="0.65" />
<line x1="338.60" y1="158.80" x2="523.40" y2="158.80" stroke="#262626" stroke-width="1.0" />
<line x1="338.60" y1="297.30" x2="523.40" y2="297.30" stroke="#262626" stroke-width="1.0" />
<line x1="522.90" y1="158.80" x2="522.90" y2="297.30" stroke="#262626" stroke-width="1.0" />
<line x1="339.10" y1="158.80" x2="339.10" y2="297.30" stroke="#262626" stroke-width="0.65" />
<text x="62.40" y="150.90" font-size="12.4" text-anchor="end" fill="#262626" stroke="#262626" stroke-width="0.3" >0</text>
<text x="62.40" y="105.60" font-size="12.4" text-anchor="end" fill="#262626" stroke="#262626" stroke-width="0.3" >5</text>
<text x="62.40" y="59.80" font-size="12.4" text-anchor="end" fill="#262626" stroke="#262626" stroke-width="0.3" >10</text>
<text x="62.40" y="13.70" font-size="12.4" text-anchor="end" fill="#262626" stroke="#262626" stroke-width="0.3" >15</text>
<text x="62.40" y="167.67" font-size="12.4" text-anchor="end" fill="#262626" stroke="#262626" stroke-width="0.3" >0</text>
<text x="62.40" y="212.35" font-size="12.4" text-anchor="end" fill="#262626" stroke="#262626" stroke-width="0.3" >-100</text>
<text x="62.40" y="257.03" font-size="12.4" text-anchor="end" fill="#262626" stroke="#262626" stroke-width="0.3" >-200</text>
<text x="62.40" y="301.71" font-size="12.4" text-anchor="end" fill="#262626" stroke="#262626" stroke-width="0.3" >-300</text>
<text x="336.40" y="167.67" font-size="12.4" text-anchor="end" fill="#262626" stroke="#262626" stroke-width="0.3" >0</text>
<text x="336.40" y="212.35" font-size="12.4" text-anchor="end" fill="#262626" stroke="#262626" stroke-width="0.3" >-100</text>
<text x="336.40" y="257.03" font-size="12.4" text-anchor="end" fill="#262626" stroke="#262626" stroke-width="0.3" >-200</text>
<text x="336.40" y="301.71" font-size="12.4" text-anchor="end" fill="#262626" stroke="#262626" stroke-width="0.3" >-300</text>
<text x="331.20" y="13.30" font-size="12.4" text-anchor="end" fill="#262626" stroke="#262626" stroke-width="0.3" >10</text>
<text x="331.70" y="7.40" font-size="10" text-anchor="start" fill="#262626" stroke="#262626" stroke-width="0.25" >6</text>
<text x="331.20" y="54.30" font-size="12.4" text-anchor="end" fill="#262626" stroke="#262626" stroke-width="0.3" >10</text>
<text x="331.70" y="48.40" font-size="10" text-anchor="start" fill="#262626" stroke="#262626" stroke-width="0.25" >5</text>
<text x="331.20" y="96.45" font-size="12.4" text-anchor="end" fill="#262626" stroke="#262626" stroke-width="0.3" >10</text>
<text x="331.70" y="90.55" font-size="10" text-anchor="start" fill="#262626" stroke="#262626" stroke-width="0.25" >4</text>
<text x="331.20" y="139.80" font-size="12.4" text-anchor="end" fill="#262626" stroke="#262626" stroke-width="0.3" >10</text>
<text x="331.70" y="133.90" font-size="10" text-anchor="start" fill="#262626" stroke="#262626" stroke-width="0.25" >3</text>
<text x="66.20" y="314.60" font-size="12.4" text-anchor="middle" fill="#262626" stroke="#262626" stroke-width="0.3" >10</text>
<text x="72.30" y="308.50" font-size="10" text-anchor="start" fill="#262626" stroke="#262626" stroke-width="0.25" >3</text>
<text x="127.60" y="314.60" font-size="12.4" text-anchor="middle" fill="#262626" stroke="#262626" stroke-width="0.3" >10</text>
<text x="133.70" y="308.50" font-size="10" text-anchor="start" fill="#262626" stroke="#262626" stroke-width="0.25" >4</text>
<text x="189.00" y="314.60" font-size="12.4" text-anchor="middle" fill="#262626" stroke="#262626" stroke-width="0.3" >10</text>
<text x="195.10" y="308.50" font-size="10" text-anchor="start" fill="#262626" stroke="#262626" stroke-width="0.25" >5</text>
<text x="250.40" y="314.60" font-size="12.4" text-anchor="middle" fill="#262626" stroke="#262626" stroke-width="0.3" >10</text>
<text x="256.50" y="308.50" font-size="10" text-anchor="start" fill="#262626" stroke="#262626" stroke-width="0.25" >6</text>
<text x="338.90" y="314.60" font-size="12.4" text-anchor="middle" fill="#262626" stroke="#262626" stroke-width="0.3" >10</text>
<text x="345.00" y="308.50" font-size="10" text-anchor="start" fill="#262626" stroke="#262626" stroke-width="0.25" >3</text>
<text x="400.23" y="314.60" font-size="12.4" text-anchor="middle" fill="#262626" stroke="#262626" stroke-width="0.3" >10</text>
<text x="406.33" y="308.50" font-size="10" text-anchor="start" fill="#262626" stroke="#262626" stroke-width="0.25" >4</text>
<text x="461.57" y="314.60" font-size="12.4" text-anchor="middle" fill="#262626" stroke="#262626" stroke-width="0.3" >10</text>
<text x="467.67" y="308.50" font-size="10" text-anchor="start" fill="#262626" stroke="#262626" stroke-width="0.25" >5</text>
<text x="520.90" y="314.60" font-size="12.4" text-anchor="middle" fill="#262626" stroke="#262626" stroke-width="0.3" >10</text>
<text x="527.00" y="308.50" font-size="10" text-anchor="start" fill="#262626" stroke="#262626" stroke-width="0.25" >6</text>
<text x="159.90" y="331.70" font-size="13.2" text-anchor="middle" fill="#262626" stroke="#262626" stroke-width="0.3" >frequency [Hz]</text>
<text x="431.40" y="331.40" font-size="13.2" text-anchor="middle" fill="#262626" stroke="#262626" stroke-width="0.3" >frequency [Hz]</text>
<text x="30.90" y="92.27" font-size="16" text-anchor="start" fill="#262626" stroke="#262626" stroke-width="0.25" transform="rotate(-90 30.90 92.27)" textLength="30.21" lengthAdjust="spacingAndGlyphs">gain</text>
<text x="30.80" y="272.58" font-size="15.6" text-anchor="start" fill="#262626" stroke="#262626" stroke-width="0.25" transform="rotate(-90 30.80 272.58)" textLength="41.46" lengthAdjust="spacingAndGlyphs">phase</text>
<text x="30.80" y="225.25" font-size="15.6" text-anchor="start" fill="#262626" stroke="#262626" stroke-width="0.25" transform="rotate(-90 30.80 225.25)" textLength="39.11" lengthAdjust="spacingAndGlyphs">[deg]</text>
<text x="303.30" y="135.56" font-size="15.6" text-anchor="start" fill="#262626" stroke="#262626" stroke-width="0.25" transform="rotate(-90 303.30 135.56)" textLength="72.20" lengthAdjust="spacingAndGlyphs">sensitivity</text>
<text x="303.30" y="57.45" font-size="15.6" text-anchor="start" fill="#262626" stroke="#262626" stroke-width="0.25" transform="rotate(-90 303.30 57.45)" textLength="36.89" lengthAdjust="spacingAndGlyphs">[V/T]</text>
<text x="302.90" y="274.69" font-size="15.6" text-anchor="start" fill="#262626" stroke="#262626" stroke-width="0.25" transform="rotate(-90 302.90 274.69)" textLength="41.77" lengthAdjust="spacingAndGlyphs">phase</text>
<text x="302.90" y="226.82" font-size="15.6" text-anchor="start" fill="#262626" stroke="#262626" stroke-width="0.25" transform="rotate(-90 302.90 226.82)" textLength="38.15" lengthAdjust="spacingAndGlyphs">[deg]</text>
<text x="-2.00" y="14.60" font-size="19.3" text-anchor="start" fill="#000" stroke="#000" stroke-width="0.45" >a</text>
<text x="11.10" y="13.20" font-size="18.7" text-anchor="start" fill="#000" stroke="#000" stroke-width="0.45" >)</text>
<text x="-0.90" y="171.50" font-size="19.3" text-anchor="start" fill="#000" stroke="#000" stroke-width="0.45" >b</text>
<text x="11.50" y="170.50" font-size="18.7" text-anchor="start" fill="#000" stroke="#000" stroke-width="0.45" >)</text>
<text x="268.60" y="14.50" font-size="19.3" text-anchor="start" fill="#000" stroke="#000" stroke-width="0.45" >c</text>
<text x="280.00" y="13.60" font-size="18.7" text-anchor="start" fill="#000" stroke="#000" stroke-width="0.45" >)</text>
<text x="266.50" y="171.60" font-size="19.3" text-anchor="start" fill="#000" stroke="#000" stroke-width="0.45" >d</text>
<text x="279.60" y="170.80" font-size="18.7" text-anchor="start" fill="#000" stroke="#000" stroke-width="0.45" >)</text>
<rect x="78.4" y="51.7" width="111.1" height="52.5" fill="#fff" stroke="#000" stroke-width="1"/>
<line x1="82.9" y1="59.6" x2="102.6" y2="59.6" stroke="#ff0000" stroke-width="1.8"/>
<text x="106.60" y="62.40" font-size="10.15" text-anchor="start" fill="#ff0000" stroke="#ff0000" stroke-width="0.25" >pre-amplifier</text>
<line x1="82.9" y1="71.7" x2="102.6" y2="71.7" stroke="#0a74c4" stroke-width="1.7" stroke-dasharray="6.8,1.5"/>
<text x="106.60" y="74.50" font-size="10.15" text-anchor="start" fill="#1a78c8" stroke="#1a78c8" stroke-width="0.25" >rack electronics</text>
<line x1="82.9" y1="84.2" x2="102.6" y2="84.2" stroke="#008000" stroke-width="2.0" stroke-dasharray="6.7,3.0,1.6,3.2"/>
<text x="106.60" y="87.00" font-size="10.15" text-anchor="start" fill="#008000" stroke="#008000" stroke-width="0.25" >coil in test-stand</text>
<line x1="82.9" y1="96.6" x2="102.6" y2="96.6" stroke="#ff00ff" stroke-width="2.0" stroke-dasharray="1.9,1.35"/>
<text x="106.60" y="99.40" font-size="10.15" text-anchor="start" fill="#ff00ff" stroke="#ff00ff" stroke-width="0.25" >long signal cables</text>
</svg>
</body></html>
